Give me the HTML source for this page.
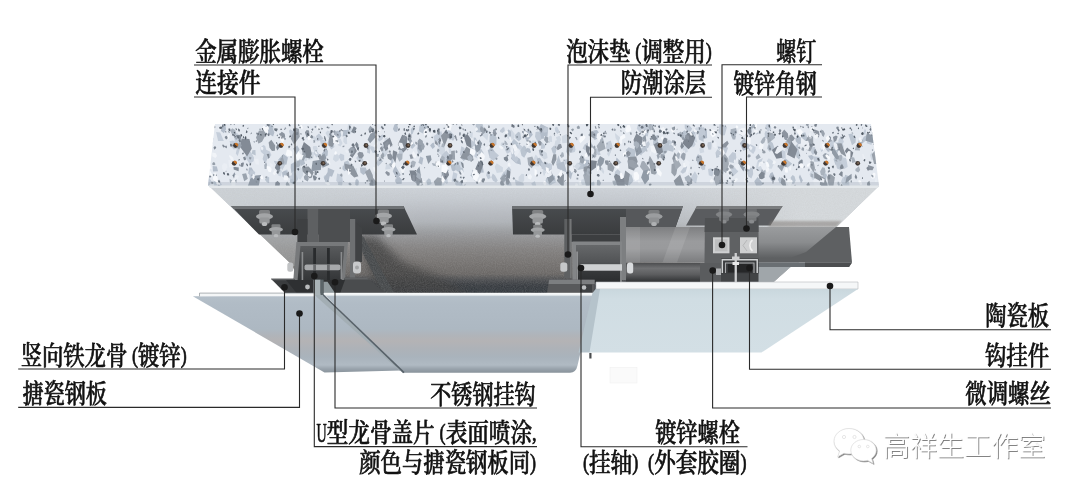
<!DOCTYPE html>
<html lang="zh"><head><meta charset="utf-8"><title>干挂陶瓷板节点</title>
<style>
html,body{margin:0;padding:0;background:#fff;}
body{width:1080px;height:495px;overflow:hidden;}
svg{display:block;will-change:transform;opacity:0.999;}
.lb{font-family:"Liberation Serif","Noto Serif CJK SC",serif;font-weight:500;font-size:26.5px;fill:#111;stroke:#111;stroke-width:0.7px;stroke-linejoin:round;}
.pp{font-size:22.5px;}
.wm{font-family:"Liberation Sans","Noto Sans CJK SC",sans-serif;font-weight:300;font-size:27px;fill:#fff;}
</style></head><body>
<svg width="1080" height="495" viewBox="0 0 1080 495">
<rect width="1080" height="495" fill="#ffffff"/>

<defs>
<linearGradient id="gUnder" x1="0" y1="186" x2="0" y2="292" gradientUnits="userSpaceOnUse">
 <stop offset="0" stop-color="#d0d5db"/><stop offset="0.13" stop-color="#c6cbd1"/><stop offset="0.25" stop-color="#b9bdc3"/>
 <stop offset="0.34" stop-color="#b0b4b9"/><stop offset="0.43" stop-color="#9c9ea1"/><stop offset="0.49" stop-color="#929294"/><stop offset="0.60" stop-color="#838180"/>
 <stop offset="0.72" stop-color="#777472"/><stop offset="0.83" stop-color="#6b6866"/><stop offset="0.89" stop-color="#4b4d50"/>
 <stop offset="0.94" stop-color="#383c41"/><stop offset="1" stop-color="#353a3f"/>
</linearGradient>
<linearGradient id="gUnderR" x1="640" y1="0" x2="800" y2="0" gradientUnits="userSpaceOnUse">
 <stop offset="0" stop-color="#d6dadd" stop-opacity="0"/><stop offset="1" stop-color="#d6dadd" stop-opacity="1"/>
</linearGradient>
<linearGradient id="gUnderL" x1="215" y1="0" x2="420" y2="0" gradientUnits="userSpaceOnUse">
 <stop offset="0" stop-color="#cdd2d6" stop-opacity="0.9"/><stop offset="1" stop-color="#cdd2d6" stop-opacity="0"/>
</linearGradient>
<linearGradient id="gSteel" x1="0" y1="293" x2="0" y2="373" gradientUnits="userSpaceOnUse">
 <stop offset="0" stop-color="#b7c2cb"/><stop offset="0.12" stop-color="#b1bcc6"/><stop offset="0.45" stop-color="#adb8c2"/>
 <stop offset="0.53" stop-color="#b0b4b9"/><stop offset="0.6" stop-color="#b4b3b5"/><stop offset="0.7" stop-color="#adb2b8"/>
 <stop offset="0.8" stop-color="#a9b3bc"/><stop offset="0.9" stop-color="#b0bac3"/><stop offset="0.95" stop-color="#98a2ab"/><stop offset="1" stop-color="#88929a"/>
</linearGradient>
<linearGradient id="gCer" x1="0" y1="289" x2="0" y2="353" gradientUnits="userSpaceOnUse">
 <stop offset="0" stop-color="#c9d7dd"/><stop offset="0.15" stop-color="#d0dde3"/><stop offset="1" stop-color="#d3dfe5"/>
</linearGradient>
<linearGradient id="gKeel" x1="0" y1="242" x2="0" y2="292" gradientUnits="userSpaceOnUse">
 <stop offset="0" stop-color="#5b5d5f"/><stop offset="1" stop-color="#2c2d2e"/>
</linearGradient>
<linearGradient id="gKeelL" x1="0" y1="246" x2="0" y2="280" gradientUnits="userSpaceOnUse">
 <stop offset="0" stop-color="#585a5c"/><stop offset="0.5" stop-color="#46484a"/><stop offset="1" stop-color="#343638"/>
</linearGradient>
<linearGradient id="gKeelM" x1="0" y1="245" x2="0" y2="283" gradientUnits="userSpaceOnUse">
 <stop offset="0" stop-color="#66686a"/><stop offset="0.45" stop-color="#525456"/><stop offset="0.7" stop-color="#36383a"/><stop offset="1" stop-color="#2a2c2e"/>
</linearGradient>
<linearGradient id="gPlate" x1="0" y1="206" x2="0" y2="234.5" gradientUnits="userSpaceOnUse">
 <stop offset="0" stop-color="#494c4f"/><stop offset="1" stop-color="#3a3c3e"/>
</linearGradient>
<linearGradient id="gHi" x1="0" y1="292.8" x2="0" y2="296.1" gradientUnits="userSpaceOnUse">
 <stop offset="0" stop-color="#fbfcfc"/><stop offset="0.6" stop-color="#eef2f4"/><stop offset="1" stop-color="#c9d2d8"/>
</linearGradient>
<linearGradient id="gTube" x1="0" y1="227" x2="0" y2="263" gradientUnits="userSpaceOnUse">
 <stop offset="0" stop-color="#7e7f81"/><stop offset="0.4" stop-color="#9a9b9d"/><stop offset="0.6" stop-color="#999a9c"/><stop offset="1" stop-color="#7a7b7d"/>
</linearGradient>
<linearGradient id="gTubeL" x1="0" y1="227" x2="0" y2="258" gradientUnits="userSpaceOnUse">
 <stop offset="0" stop-color="#9a9c9e"/><stop offset="0.5" stop-color="#8a8c8e"/><stop offset="1" stop-color="#5e6062"/>
</linearGradient>
<linearGradient id="gUT" x1="0" y1="263" x2="0" y2="282" gradientUnits="userSpaceOnUse">
 <stop offset="0" stop-color="#4d4e50"/><stop offset="0.28" stop-color="#707173"/><stop offset="0.6" stop-color="#5c5d5f"/><stop offset="1" stop-color="#2f3133"/>
</linearGradient>
<radialGradient id="gShadow" cx="0.5" cy="0.5" r="0.5">
 <stop offset="0" stop-color="#3c3c3c" stop-opacity="0.75"/><stop offset="1" stop-color="#3c3c3c" stop-opacity="0"/>
</radialGradient>
<filter id="blur4" x="-20%" y="-20%" width="140%" height="140%"><feGaussianBlur stdDeviation="4"/></filter>
<filter id="blur1" x="-10%" y="-50%" width="120%" height="200%"><feGaussianBlur stdDeviation="1.2"/></filter>
<filter id="blur2" x="-20%" y="-20%" width="140%" height="140%"><feGaussianBlur stdDeviation="2"/></filter>
<filter id="wmsh" x="-5%" y="-20%" width="110%" height="140%"><feDropShadow dx="0.9" dy="0.9" stdDeviation="0.45" flood-color="#6e6e6e" flood-opacity="0.95"/></filter>
<filter id="noise" x="0" y="0" width="100%" height="100%">
 <feTurbulence type="fractalNoise" baseFrequency="0.9" numOctaves="2" seed="3"/>
 <feColorMatrix type="matrix" values="0 0 0 0 0.5  0 0 0 0 0.5  0 0 0 0 0.5  0.9 0 0 0 -0.25"/>
</filter>
<clipPath id="cUnder"><polygon points="209,186 879,186 836.5,227 836.5,240 790.5,267 773,282.5 596,282.5 596,293 309,293 290,263"/></clipPath>
<clipPath id="cFace"><polygon points="215,124 871,124 879,185.5 208,185.5"/></clipPath>
</defs>

<g clip-path="url(#cUnder)">
<rect x="200" y="186" width="700" height="110" fill="url(#gUnder)"/>
<rect x="640" y="186" width="260" height="110" fill="url(#gUnderR)"/>
<rect x="200" y="186" width="230" height="48" fill="url(#gUnderL)"/>
<rect x="200" y="234" width="100" height="32" fill="#b4b7ba" opacity="0.45"/>
<polygon points="356,236 376,236 402,262 445,280 470,296 380,296" fill="#3f3f3f" opacity="0.8" filter="url(#blur4)"/>
<polygon points="354,236 363,236 394,293 383,293" fill="#474a4c" opacity="0.95"/>
<rect x="200" y="186" width="700" height="110" filter="url(#noise)" opacity="0.35"/>
</g>
<polygon points="208,185 879,185 878,188 210,188" fill="#e4e8eb"/>
<g clip-path="url(#cFace)">
<rect x="205" y="122" width="680" height="66" fill="#e4e9f0"/>
<path fill="#c5ceda" d="M689.8 179.2L694.9 171.2L697.6 176.1L696.1 183.6ZM254.1 157.8L253.6 161.3L249.6 163.8L245.1 156.9L246.7 152.4L250.7 151.6ZM372.7 153.1L369.9 147.7L371.7 146.1L374.3 147.3L375.0 153.1ZM237.2 148.7L233.7 149.6L230.8 146.3L229.6 141.2L233.1 140.5L236.7 142.8ZM610.3 152.7L605.9 148.3L606.4 142.5L610.8 140.4L612.8 147.3ZM319.4 137.9L325.9 140.9L327.0 148.4L321.3 146.3ZM840.8 135.8L843.9 141.4L841.0 147.4L839.1 147.5L838.3 140.4ZM570.6 153.1L569.6 147.7L571.0 143.8L574.3 145.0L575.5 149.5L574.7 152.1ZM344.2 160.0L341.0 161.2L338.4 156.5L340.5 153.5L344.2 154.9ZM837.8 150.8L835.3 145.8L836.2 142.2L842.8 142.9L843.7 147.4ZM536.2 185.6L533.8 188.2L531.2 183.6L534.9 180.9ZM288.8 176.3L292.7 174.9L295.3 179.9L295.8 182.8L291.0 182.2ZM821.2 151.9L820.5 149.0L821.2 144.8L823.7 143.2L824.7 144.9L824.5 149.6ZM238.6 145.4L235.6 144.6L234.2 138.8L237.1 132.7L239.6 137.2L240.4 142.5ZM552.1 164.5L552.0 168.9L550.8 171.0L547.3 168.6L547.1 164.6L549.9 163.1ZM834.8 146.0L830.8 148.0L829.5 145.5L830.3 141.8L832.9 140.2L835.8 141.6ZM259.3 138.3L262.0 137.4L262.9 138.2L261.9 141.5L258.7 143.7L257.9 141.3ZM738.3 171.4L733.0 176.4L731.0 169.2L734.7 167.2ZM240.5 147.3L237.7 156.1L235.8 153.6L237.6 145.2ZM768.2 131.8L765.3 128.5L765.7 124.9L768.3 123.5L770.5 125.0L771.3 129.0ZM756.5 167.7L757.8 160.6L762.8 158.1L759.5 167.7ZM451.6 181.4L453.2 172.1L457.5 173.8L455.7 182.2ZM721.1 126.3L723.3 125.0L725.0 128.3L723.5 133.0L722.7 133.8L720.1 131.8ZM323.5 177.1L325.1 174.8L326.6 176.7L327.5 179.6L325.6 181.5ZM694.1 146.8L691.1 147.3L689.6 145.2L690.4 140.5L694.2 140.9L695.6 144.3ZM749.2 150.7L748.2 145.8L750.5 144.3L755.7 146.9L755.3 150.6L753.2 154.0ZM846.2 158.3L847.7 166.7L844.4 169.0L839.2 164.4L840.8 156.9ZM221.9 184.4L218.9 189.4L213.8 185.5L214.6 179.8L219.6 181.2ZM557.6 127.6L559.2 131.2L557.6 134.0L555.4 131.4L554.7 128.4L556.0 126.5ZM268.6 159.1L264.9 158.4L264.1 152.5L265.7 149.6L269.8 151.4L271.4 155.1ZM866.1 130.5L865.3 135.0L863.0 133.8L864.9 128.8ZM471.8 154.1L472.0 147.8L475.7 150.0L477.5 153.4L476.6 158.2ZM518.7 143.8L523.3 147.3L523.8 150.1L518.7 149.5L517.7 146.3ZM362.5 162.3L358.4 161.6L356.2 158.0L357.7 156.1L361.0 155.6L363.3 159.8ZM223.8 141.0L218.1 141.0L216.1 132.0L220.2 132.4ZM653.0 121.4L653.5 126.6L649.1 131.1L646.0 127.9L648.6 120.4ZM454.1 134.9L454.2 139.2L449.1 139.8L446.0 132.3L448.6 129.2ZM849.6 186.1L845.9 190.6L841.0 181.4L843.0 176.7L848.6 177.6ZM507.0 153.8L504.8 149.8L506.9 145.9L510.3 147.4L510.3 152.0ZM282.2 170.2L279.8 165.7L284.7 158.7L285.9 163.7ZM641.7 124.2L643.1 129.2L640.2 132.8L636.8 128.7L638.2 123.2ZM336.2 180.7L337.1 173.4L341.8 174.8L343.0 181.6L339.5 184.4ZM260.4 147.6L263.4 145.1L265.2 146.1L266.7 151.8L263.5 154.2L260.8 151.7ZM549.6 185.5L546.3 178.2L551.5 173.9L556.6 182.1ZM657.4 140.8L656.6 144.5L655.0 145.4L653.5 141.6L654.7 139.0ZM780.5 156.3L782.0 149.8L785.5 151.4L785.7 158.2L782.6 158.9ZM383.7 136.8L382.1 139.8L379.0 141.5L377.9 139.6L380.9 135.3L382.8 134.5ZM317.2 151.2L319.3 154.3L318.9 156.3L316.5 157.6L313.9 153.9L314.3 151.0ZM287.4 175.7L285.5 175.2L285.1 170.2L287.1 169.5L289.1 174.0ZM564.2 160.0L566.6 158.9L567.5 159.8L566.7 164.1L564.7 164.8ZM872.5 140.8L871.5 144.9L866.7 143.3L868.3 134.5ZM670.9 145.0L667.5 142.0L668.9 139.5L671.9 141.4L672.9 144.4ZM388.0 151.9L385.4 156.4L383.8 156.4L381.7 151.4L382.2 147.5L386.6 149.5ZM474.9 142.9L476.0 142.1L479.5 143.9L481.6 147.8L479.5 148.9ZM712.3 176.6L708.8 175.2L708.0 168.9L711.3 168.3L713.6 172.5ZM443.8 181.4L444.0 179.0L446.3 176.9L447.4 178.9L448.0 183.1L446.6 184.0ZM308.3 169.8L309.6 169.0L312.7 170.5L311.8 175.0L308.3 176.1ZM434.5 142.3L433.5 136.3L441.3 130.9L443.4 138.3Z"/>
<path fill="#bac4d0" d="M629.2 185.7L624.9 182.8L623.8 177.9L626.0 173.1L631.4 174.8L633.5 181.0ZM795.8 152.3L797.9 148.1L800.6 156.1L799.2 159.4L796.5 157.3ZM295.9 170.3L291.4 164.5L294.7 161.5L299.7 162.8L299.7 169.9ZM769.5 151.7L767.0 148.6L769.4 140.0L772.7 142.9L774.7 148.7ZM848.5 176.1L848.7 183.8L846.1 184.3L843.9 178.7L845.2 174.7ZM518.8 147.8L513.3 153.3L513.1 145.9L517.1 143.1ZM412.5 126.8L414.2 129.8L412.7 133.7L411.0 134.9L410.8 129.6ZM782.0 182.4L779.8 183.3L778.0 179.7L779.4 176.7L782.3 180.1ZM716.3 157.9L715.5 152.4L718.6 150.4L719.3 157.0ZM557.5 166.8L556.2 162.8L558.4 155.3L560.9 162.6ZM345.9 166.3L346.8 170.1L344.5 171.3L342.3 169.1L342.8 165.6ZM792.1 183.8L790.6 177.5L792.6 174.9L794.5 176.3L795.7 180.4L794.1 183.7ZM474.0 145.6L473.7 137.6L475.8 137.8L478.2 144.3L475.9 147.6ZM665.4 144.3L667.3 152.1L662.5 155.3L661.7 146.8ZM441.5 155.8L445.6 152.8L447.1 154.5L445.8 159.6L442.9 158.4ZM418.3 154.5L416.7 147.6L421.3 146.1L422.0 152.1ZM427.5 130.6L424.8 134.5L418.8 131.2L419.5 125.9L422.0 122.2L427.0 123.2ZM481.2 149.1L483.6 152.9L481.5 157.5L478.5 154.7L478.0 149.8ZM690.3 132.7L694.6 130.2L696.0 137.2L694.0 140.5L692.0 138.8ZM520.3 132.8L521.3 139.0L518.8 141.3L515.5 138.5L514.8 135.3L518.3 131.8ZM269.1 183.3L266.8 182.2L264.9 179.8L267.1 176.3L269.2 177.5ZM653.1 142.2L653.5 136.8L657.7 134.9L657.9 138.0L657.6 144.2L653.1 145.0ZM535.2 163.7L530.7 165.5L529.7 162.2L531.1 159.7L534.9 159.9ZM667.9 151.1L663.9 147.3L665.0 142.6L669.2 140.1L669.9 148.2ZM473.1 153.5L472.2 156.6L468.2 158.6L465.7 151.9L470.8 148.5ZM792.2 163.7L787.0 167.9L783.5 163.5L785.4 158.2ZM273.5 126.7L273.2 132.7L268.0 133.8L266.5 132.6L264.6 126.6L270.5 123.6ZM347.8 170.6L343.6 168.0L344.1 161.9L348.0 160.6L350.1 164.5ZM552.8 153.3L551.2 148.4L554.2 145.3L556.7 148.7L555.2 154.8ZM492.3 133.4L496.6 137.3L496.4 144.7L493.0 146.5L489.4 142.0L489.7 135.4ZM416.8 179.0L412.3 180.9L412.1 176.4L414.6 175.9ZM635.2 158.9L631.3 159.2L625.7 150.1L628.6 147.3L635.0 149.5ZM521.6 155.8L520.2 150.6L524.0 145.3L525.8 147.1L527.4 151.8L524.2 157.7ZM206.0 165.0L205.3 159.4L207.3 156.7L210.0 163.5ZM545.3 182.1L546.3 177.8L548.4 179.9L548.3 182.6ZM646.2 145.0L647.1 149.9L642.2 153.8L640.2 149.0ZM595.2 150.3L588.7 153.6L585.8 143.7L590.8 141.2ZM674.5 147.8L673.0 151.7L668.6 150.8L668.6 147.9L670.3 144.5L672.7 145.7ZM301.2 158.1L301.6 161.4L299.6 168.9L296.8 165.9L295.8 162.3L298.0 155.6ZM479.5 132.5L476.0 131.9L475.7 124.4L479.7 121.3L482.2 122.6L484.4 131.4ZM290.1 182.3L289.8 180.0L293.3 177.7L295.8 178.6L295.8 181.5L292.8 184.1ZM213.8 179.5L216.4 179.9L216.7 184.7L213.2 183.5ZM513.8 138.7L518.8 143.5L515.1 146.9L511.4 142.8ZM252.3 150.2L255.4 150.0L255.7 155.5L251.9 153.8ZM690.3 140.8L685.2 141.3L683.2 139.9L680.7 134.0L684.3 130.3L690.5 134.2ZM393.0 158.0L393.7 164.6L391.0 165.2L391.1 156.7ZM430.5 179.4L431.6 184.0L427.6 185.4L426.2 181.1L428.7 178.2ZM594.4 186.9L592.6 188.4L590.1 186.3L590.2 183.4L593.7 181.4L594.5 182.9ZM703.9 142.1L698.9 139.6L698.6 136.0L703.1 135.4ZM453.4 164.5L457.2 161.5L460.3 164.2L461.0 170.8L459.9 173.0L453.5 168.4ZM807.7 138.7L806.0 145.4L802.6 143.8L799.4 136.3L800.9 133.8L805.2 132.3ZM835.7 154.8L839.0 159.8L835.6 165.2L833.6 159.5ZM411.1 142.7L412.7 141.8L415.5 145.6L412.5 148.7L410.7 148.0ZM838.2 146.6L837.4 154.7L834.9 156.4L831.7 151.8L831.8 145.6L835.5 143.6ZM851.9 133.5L855.8 138.0L855.6 142.5L852.0 145.3L848.4 134.3ZM862.7 143.2L860.5 142.6L863.8 136.7L867.2 134.8L866.8 139.6ZM582.9 160.6L584.2 168.7L577.7 170.0L576.1 164.2ZM463.8 172.9L460.2 173.5L458.0 166.6L462.9 167.6ZM697.6 127.2L702.3 126.8L703.8 132.7L700.4 134.7ZM478.8 169.6L477.4 176.8L474.3 179.2L470.5 175.4L473.3 169.4Z"/>
<path fill="#d0d8e2" d="M825.8 180.4L822.0 177.4L819.7 171.5L821.8 169.1L825.5 171.7L827.4 176.1ZM582.6 185.3L581.2 183.1L581.4 179.7L584.4 178.8L585.2 180.8L585.0 184.6ZM763.3 166.1L760.5 171.7L756.1 169.4L756.8 163.0L760.4 161.3ZM458.2 164.1L458.7 160.9L463.0 161.7L462.7 167.9ZM473.0 132.4L472.3 138.3L469.2 136.4L469.9 132.1ZM771.7 168.8L768.3 168.5L765.8 162.5L768.7 158.3L771.7 160.1L774.4 163.1ZM315.6 141.6L312.6 138.6L312.3 135.9L315.0 136.4L318.0 140.2ZM303.8 160.7L302.1 155.6L303.8 152.9L308.1 152.8L308.3 155.7L306.7 161.2ZM340.5 146.6L336.0 144.0L337.6 138.3L340.7 138.9L342.5 143.2ZM802.9 159.5L803.3 163.1L800.3 165.0L798.8 159.7ZM313.7 156.2L313.0 158.8L308.5 160.0L307.6 157.1L309.6 151.8L314.0 152.2ZM437.6 152.2L439.3 147.2L444.5 143.8L445.3 154.0L441.7 155.6ZM692.1 139.3L693.2 144.0L693.1 147.5L687.3 145.6L684.8 140.4L686.2 135.8ZM384.8 154.6L383.3 151.1L382.1 144.8L384.1 142.1L386.6 144.0L388.1 152.3ZM539.6 151.4L542.1 150.0L546.8 153.1L547.6 158.1L544.4 159.6L539.3 154.8ZM445.0 182.7L442.8 188.2L438.8 182.0L442.2 180.4ZM559.2 142.5L557.2 141.0L555.9 137.2L559.7 135.8L561.2 139.9ZM503.0 167.5L502.7 171.9L496.8 172.9L494.6 166.7L496.7 163.3ZM282.1 171.8L280.7 176.5L278.3 175.5L276.0 171.7L278.4 167.3L280.1 167.9ZM317.0 152.0L314.6 152.0L312.7 148.0L313.4 146.1L316.6 146.1L317.7 148.5ZM552.1 142.0L550.6 141.9L549.0 141.1L548.7 137.1L550.3 135.4L551.8 136.6ZM629.7 177.4L627.7 182.0L624.8 180.3L623.9 177.1L627.7 175.1ZM869.9 155.3L871.6 152.3L874.0 153.8L875.4 158.1L872.7 160.1L871.4 159.9ZM617.0 139.8L618.8 138.5L621.8 142.6L620.5 145.5ZM487.4 140.5L482.1 135.3L483.1 128.7L488.9 130.9ZM384.0 144.0L384.7 138.2L387.6 137.5L389.4 142.4L387.0 146.7ZM580.7 165.6L577.4 170.0L574.2 166.4L577.4 162.6ZM350.4 134.4L347.5 133.6L345.9 131.4L347.5 128.3L351.7 127.3L352.3 129.2ZM591.4 179.0L590.4 186.1L585.8 186.1L582.1 181.9L584.3 176.6ZM683.0 151.0L681.7 143.5L683.6 142.0L686.0 143.2L685.1 149.4ZM336.3 153.2L339.4 156.1L338.6 160.2L335.8 161.9L332.9 159.5L333.8 155.4ZM686.1 145.6L687.5 146.7L687.7 152.0L685.0 153.0L684.4 149.1ZM560.4 141.5L560.6 147.9L556.9 148.4L554.5 144.9L555.4 140.5L559.5 139.8ZM345.4 144.2L343.3 141.7L343.6 137.2L346.8 137.1L347.2 143.9ZM812.4 179.8L809.5 174.4L810.9 170.8L817.4 171.9L817.8 180.1ZM692.0 137.2L694.9 133.5L697.4 142.6L692.7 141.6ZM500.6 146.8L501.0 142.8L503.2 142.2L506.8 143.8L506.0 147.1L504.2 148.7ZM534.5 148.0L529.5 147.0L532.5 140.3L536.4 140.8ZM702.9 145.4L704.3 152.2L700.2 153.2L699.2 148.6ZM694.3 129.2L696.8 127.2L700.6 129.5L700.2 132.4L696.8 134.9L694.5 131.9ZM625.0 180.6L625.9 186.4L620.6 189.9L616.1 185.2L616.6 180.9L619.9 176.8ZM801.8 133.3L800.6 138.7L799.3 139.6L796.1 138.7L797.1 134.1L799.9 132.6ZM300.2 179.7L295.1 176.1L296.8 168.0L302.3 168.2L303.3 174.9ZM518.7 177.0L521.7 173.8L524.2 174.3L524.2 180.5L522.1 183.4L518.4 181.3ZM327.5 130.4L332.0 132.3L333.4 138.5L330.2 141.0L325.4 133.1ZM572.0 175.5L568.1 170.8L569.2 162.1L574.3 166.3ZM625.9 152.1L628.6 154.1L630.5 158.8L625.7 157.6ZM562.3 143.3L561.7 136.3L566.8 134.0L568.9 137.0L567.4 142.7ZM357.1 173.9L355.7 175.3L352.1 175.0L352.2 171.4L354.0 169.2L356.8 167.9ZM608.9 149.3L610.9 152.1L608.9 156.8L607.0 154.0ZM600.2 168.8L601.7 167.2L602.7 167.9L604.2 171.7L603.5 173.9L601.6 171.5ZM301.6 169.2L298.4 173.7L296.6 166.8L299.1 164.5ZM544.6 168.9L546.2 173.2L543.9 175.9L542.5 170.9ZM450.5 154.0L449.2 153.0L448.5 149.2L449.1 147.7L450.4 148.3L451.5 150.8ZM535.7 154.4L539.6 159.3L538.8 166.6L533.7 165.9L532.3 161.6ZM615.6 138.2L614.9 133.0L620.2 137.6L618.7 143.1ZM351.5 124.0L350.7 129.1L347.4 128.7L348.3 123.5ZM785.9 152.9L784.8 149.8L788.8 143.0L791.8 146.1L792.0 149.6ZM390.4 169.1L385.2 169.4L386.0 164.6L391.3 164.1ZM880.0 135.4L873.6 131.9L873.1 127.8L879.8 125.0L882.7 130.0ZM507.1 132.6L511.2 129.2L514.6 133.7L514.4 138.2L510.6 140.8L507.2 137.9Z"/>
<path fill="#b3bdca" d="M874.5 135.8L876.1 138.3L876.1 141.5L874.5 142.3L873.1 140.5L873.2 137.6ZM460.1 187.9L458.7 182.5L463.0 179.8L466.4 182.6L462.8 190.5ZM826.9 175.1L825.7 179.3L823.7 180.3L822.0 177.5L823.4 173.7L825.3 173.4ZM570.9 179.5L565.9 173.3L569.3 170.3L572.7 171.8ZM749.6 148.2L743.2 150.8L739.9 143.3L744.1 137.7L747.8 140.5ZM327.9 167.8L334.5 170.6L332.0 176.8L327.3 175.3ZM829.5 148.1L829.3 151.9L827.6 151.5L824.7 147.5ZM340.2 131.1L341.3 135.4L339.5 138.3L336.7 138.0L335.2 134.2L336.5 130.8ZM823.9 190.6L820.9 189.5L821.3 183.0L824.0 180.8L827.7 183.2L826.9 187.7ZM792.7 144.5L789.8 148.1L786.9 149.2L785.4 141.5L788.8 138.2L791.1 138.5ZM282.6 176.7L282.0 172.6L284.2 170.8L286.7 171.3L287.8 175.2L285.7 178.9ZM398.1 127.6L397.2 132.1L394.4 131.5L392.9 129.0L394.5 124.6L396.3 123.5ZM526.7 141.7L522.2 131.1L530.9 130.7L532.8 134.7ZM520.1 159.0L521.1 164.7L516.0 163.3L511.0 158.7L511.5 156.7L515.0 155.8ZM721.8 147.1L723.2 151.3L719.0 150.1L717.5 146.6ZM615.1 163.1L616.6 157.4L621.4 162.5L618.9 164.3ZM433.6 142.5L435.0 146.7L432.6 148.9L430.1 145.6L432.1 143.2ZM291.4 173.1L290.7 167.4L290.9 164.0L294.9 162.7L296.7 165.5L295.5 171.4ZM463.7 160.9L461.1 158.6L461.4 153.4L463.5 151.4L466.6 154.8L467.3 157.7ZM287.9 157.4L286.5 164.5L279.3 164.4L278.3 159.4L283.3 153.9ZM401.7 183.8L396.7 184.0L395.1 181.3L395.6 178.6L399.4 177.1L401.9 179.4ZM324.9 149.2L328.0 150.4L327.6 155.4L323.9 158.5L321.6 154.2ZM772.4 172.1L774.5 176.3L773.3 181.5L771.7 181.1L769.0 176.5L770.2 173.6ZM763.3 183.9L757.5 189.0L754.3 181.2L757.7 177.0ZM400.7 175.1L396.9 178.7L392.7 171.2L395.2 165.4ZM207.9 129.0L210.5 129.5L212.1 131.4L208.7 138.7L204.7 140.1L204.6 134.4ZM548.3 127.7L547.4 137.0L540.0 133.7L538.6 128.6L540.9 123.9ZM299.7 162.2L302.6 156.1L305.2 163.8L301.0 165.9ZM254.2 172.1L251.7 176.5L248.2 173.5L249.0 167.5L251.6 167.6ZM802.9 180.4L801.0 183.3L798.8 176.9L800.0 174.6ZM544.6 138.5L540.4 139.0L538.9 133.0L542.4 129.4ZM698.3 165.5L695.9 157.9L698.1 153.9L701.6 158.7L701.6 162.3ZM506.3 130.8L508.7 129.6L511.0 131.8L511.0 136.1L509.9 136.6L507.0 133.1ZM328.1 171.3L330.0 174.8L328.5 181.7L325.7 182.4L324.0 178.1ZM423.4 158.1L422.1 164.8L418.4 162.8L420.2 156.5ZM273.1 136.4L268.1 133.5L268.8 126.5L271.0 125.6L274.4 132.3ZM216.9 166.4L218.0 171.3L213.0 171.6L212.7 165.9ZM476.3 179.0L474.2 179.8L472.1 174.5L472.4 170.1L474.7 169.0L476.5 172.8ZM758.8 133.6L756.2 134.5L754.6 130.1L756.2 129.3ZM584.0 168.6L582.6 165.7L583.9 159.4L589.2 160.0L589.2 164.2ZM811.5 160.7L809.1 157.8L808.1 155.7L811.9 154.9L814.1 157.2ZM556.3 164.0L563.8 161.3L566.9 172.6L557.4 168.5ZM346.7 135.8L342.6 136.4L343.5 130.0L349.1 130.1ZM367.5 172.1L363.3 175.1L360.4 172.5L359.9 167.6L365.7 167.5ZM222.9 124.0L225.3 124.4L226.1 129.3L223.9 133.3L221.0 130.9L221.2 125.4ZM378.6 164.6L377.4 161.4L379.7 156.5L382.9 161.4ZM489.3 156.4L486.8 146.3L490.1 144.5L495.2 152.4ZM451.9 170.3L450.3 164.6L452.8 164.5L455.2 165.4L455.6 170.2L453.3 171.5ZM537.9 163.7L536.7 158.6L539.9 157.8L543.3 163.3L542.1 167.2ZM592.4 134.5L593.4 130.4L597.0 129.9L599.7 133.6L599.6 137.7L594.5 140.0ZM839.0 149.7L837.2 152.5L836.3 149.8L837.4 146.2L838.9 148.1ZM795.9 141.5L795.3 138.2L798.6 136.7L801.7 137.9L801.8 143.3L798.6 144.2ZM483.8 172.5L479.8 172.7L477.7 171.8L476.2 167.0L479.1 163.6L482.7 165.8ZM358.5 185.3L356.6 186.5L355.2 184.4L355.4 180.4L356.9 178.8L358.9 180.9ZM527.0 148.0L529.7 148.5L531.1 152.3L529.7 153.0L524.5 150.8ZM703.0 139.3L700.4 132.5L703.2 127.3L706.8 130.1L707.1 138.0ZM299.5 149.3L297.3 155.8L293.1 148.5L297.2 145.6ZM554.8 175.9L555.4 179.2L555.0 181.1L551.7 180.1L551.3 178.1L551.6 174.8Z"/>
<path fill="#c0c9d5" d="M769.6 132.7L769.8 135.3L768.0 139.2L765.1 138.0L764.6 133.5L765.7 130.8ZM291.7 177.9L291.8 172.2L294.4 170.5L298.3 179.1L296.2 182.1ZM445.1 163.4L441.2 159.0L441.8 155.0L446.4 150.6L450.4 155.7L450.3 158.6ZM448.5 135.4L449.6 131.9L454.7 138.3L453.0 141.1ZM492.8 173.6L495.1 175.5L497.8 180.6L496.1 182.5L493.0 180.8L491.3 177.3ZM297.5 135.4L296.7 137.6L294.4 136.1L294.3 131.2L295.6 130.1L297.7 132.4ZM504.9 173.6L505.3 170.6L508.9 166.6L511.3 169.9L507.6 175.1ZM565.9 151.8L567.5 144.1L570.1 144.3L569.5 156.3ZM688.9 125.0L692.1 128.6L690.7 131.5L688.0 131.8L684.8 128.3L684.7 124.5ZM488.0 179.2L486.1 175.3L487.2 171.6L489.2 172.4L490.7 178.1ZM333.5 142.8L334.4 147.1L331.3 149.4L327.2 143.3L328.5 140.4ZM752.7 125.4L752.0 131.3L749.6 134.9L746.7 133.0L750.0 126.7ZM540.7 134.7L541.4 139.8L537.6 142.1L535.0 136.8L535.6 131.9L538.5 131.4ZM400.6 146.7L403.4 144.4L404.8 148.6L403.0 153.5L399.4 155.3L398.8 152.1ZM724.8 135.3L721.5 135.5L718.6 132.6L719.5 124.2L722.5 124.2L726.9 127.1ZM267.8 157.6L265.4 163.9L262.6 158.9L264.3 152.8ZM273.7 160.7L278.1 161.4L280.0 166.0L275.3 163.9ZM595.1 151.1L596.3 147.9L599.0 150.1L600.7 154.7L597.9 155.2ZM515.9 185.4L514.8 179.2L523.9 183.6L523.4 189.3ZM206.0 139.4L209.1 133.6L213.6 138.2L212.3 144.3ZM540.7 162.7L547.3 162.4L550.1 165.2L548.4 172.3L541.7 168.7ZM752.8 168.5L753.2 174.1L751.4 178.6L747.9 176.3L747.3 172.8L750.4 167.4ZM722.3 178.0L717.8 180.8L715.4 176.3L718.6 170.7L724.3 170.3ZM702.6 170.3L700.6 167.9L700.3 164.0L703.5 162.7L705.2 166.0L705.2 169.6ZM548.0 127.8L547.5 132.0L543.7 132.8L542.9 130.6L545.0 127.2ZM704.1 127.2L705.6 134.3L699.0 137.9L698.1 131.6ZM689.1 169.6L682.8 173.8L680.3 172.0L684.0 166.9L686.7 166.3ZM545.3 145.4L544.5 148.4L540.9 149.1L541.3 141.8ZM811.2 147.3L815.0 147.0L816.2 152.9L812.6 154.7L811.1 152.2ZM469.9 139.0L475.7 142.9L471.9 148.2L466.6 140.6ZM620.4 171.5L618.8 179.0L616.2 180.9L614.0 176.2L615.2 171.6L617.6 169.2ZM547.5 183.1L547.4 179.0L550.2 178.8L551.3 180.2L551.9 184.3L550.0 185.4ZM372.1 189.5L370.3 187.9L370.6 182.9L373.1 182.3L375.1 184.1L374.1 188.4ZM798.4 151.4L795.3 154.9L794.3 147.0L798.0 143.3ZM510.6 151.1L515.9 153.6L518.4 159.5L516.3 163.0L512.0 158.7ZM646.3 142.7L648.7 141.3L649.9 144.0L648.0 148.3L645.6 147.2ZM367.0 152.5L367.9 145.0L370.6 145.5L369.9 153.7ZM814.3 161.7L812.6 156.3L819.5 157.0L820.3 161.7ZM643.0 151.3L641.3 155.6L637.8 153.2L639.1 149.8ZM711.2 149.4L708.5 149.7L707.3 145.4L707.8 142.2L711.5 141.9L711.6 146.1ZM507.8 186.6L505.4 183.0L506.6 180.3L510.9 182.6L512.2 187.5ZM204.0 179.4L207.4 175.0L211.8 181.8L207.2 188.4ZM721.6 151.7L723.6 145.9L726.6 146.5L728.0 148.0L726.1 153.4L723.9 153.3ZM438.4 147.6L436.9 138.7L440.1 138.6L440.3 146.7ZM213.3 127.0L211.7 132.2L208.0 131.3L210.1 126.1ZM588.3 142.9L591.7 146.6L591.3 150.8L588.2 151.9L582.5 148.4L584.6 144.6ZM376.0 162.9L378.4 158.5L381.8 157.0L381.3 163.3L378.0 166.6ZM502.9 127.2L504.3 127.5L504.8 130.9L502.5 132.9L500.2 132.1L499.9 130.4ZM874.7 132.6L873.8 128.4L879.3 128.4L879.2 133.8ZM255.3 172.4L253.9 175.9L251.1 175.3L249.4 172.9L250.6 169.9L254.3 171.2ZM289.0 130.9L290.2 129.2L294.2 132.1L295.2 135.5L293.2 138.0L290.2 135.8ZM647.7 136.5L642.3 134.9L640.6 129.7L642.4 123.9L647.1 125.6L649.1 130.3ZM418.4 150.0L417.2 145.7L418.7 143.4L420.7 149.6ZM254.3 179.8L249.7 179.9L249.4 172.8L252.8 172.4ZM500.3 177.8L504.1 171.1L508.6 176.1L505.0 182.3ZM316.0 136.0L319.0 133.6L323.5 138.6L317.5 141.5ZM338.5 181.4L341.8 179.4L342.6 183.1L342.0 185.7L338.0 185.1ZM458.1 180.6L461.1 184.1L460.2 186.2L457.1 186.8L455.2 184.2L455.3 180.5ZM735.8 153.2L736.4 158.4L733.9 163.0L729.2 162.1L728.5 156.7L732.6 152.1ZM715.8 152.2L717.4 149.2L720.5 151.4L721.1 154.3L717.6 156.0ZM464.7 148.0L463.0 156.2L459.8 155.2L461.3 146.3ZM493.6 160.7L489.2 157.6L490.1 150.5L495.0 152.1L499.0 155.6ZM837.0 168.6L835.2 160.5L838.1 159.2L842.3 163.6L840.8 169.9Z"/>
<path fill="#8d959f" d="M637.7 161.4L634.0 170.8L628.3 168.4L627.8 157.1L636.1 156.4ZM275.3 145.5L274.9 150.8L272.0 151.0L269.5 147.7L268.6 142.4L271.3 139.8ZM417.7 176.7L421.6 177.9L422.8 184.2L420.4 189.6L417.3 189.4L415.9 179.3ZM786.2 185.9L784.7 188.1L780.8 183.3L781.6 177.3L785.2 180.5ZM440.9 135.7L446.5 129.8L448.6 136.0L444.4 146.4ZM836.2 143.5L841.5 143.3L846.5 156.9L841.0 153.6ZM676.8 155.8L674.5 165.0L672.2 158.2L674.7 152.3ZM814.1 171.7L825.3 178.7L828.1 186.6L823.1 187.4L814.3 179.9ZM551.4 162.2L553.3 154.2L556.2 154.2L556.4 159.5L553.1 165.9ZM302.0 166.7L308.6 166.6L313.7 172.3L311.5 177.9L309.3 178.3L302.7 171.6ZM334.5 142.4L332.3 147.3L328.5 145.5L328.7 139.8L330.1 134.5L333.3 136.1ZM629.9 174.1L627.9 186.1L622.9 183.0L625.2 170.5ZM588.0 176.6L583.4 171.1L583.8 167.0L589.6 165.2L591.2 172.2ZM678.4 191.8L673.7 180.7L680.1 174.6L684.5 186.3ZM358.4 176.3L354.2 177.4L344.9 168.5L344.4 163.5L353.3 165.7ZM564.0 174.8L563.7 188.1L556.8 180.7L560.9 171.7ZM460.1 157.9L466.4 146.6L472.4 150.7L468.6 160.5Z"/>
<path fill="#99a1ab" d="M827.2 178.1L830.6 173.9L834.9 177.2L832.6 191.1L829.3 189.6ZM262.0 141.8L258.4 143.4L256.0 137.4L258.9 130.7L263.8 130.5L266.2 134.0ZM810.2 167.0L810.5 161.1L813.7 161.8L815.0 168.2L813.5 172.4ZM294.0 144.4L290.7 138.4L295.5 127.6L298.9 128.9L299.8 136.8ZM627.3 160.4L632.2 159.7L635.8 161.9L638.7 166.2L634.7 168.8L628.3 165.8ZM655.8 166.3L655.3 174.8L651.3 173.8L648.5 160.0L649.8 155.8ZM369.7 168.5L372.7 175.0L373.4 181.1L368.9 181.0L364.9 171.9ZM881.5 159.8L879.3 164.2L874.1 164.1L871.7 154.4L875.7 149.7ZM455.1 159.7L451.0 159.5L451.2 151.0L454.8 150.5ZM614.5 167.5L612.9 171.9L607.7 169.8L607.5 165.0L610.7 162.1ZM671.6 164.3L674.4 163.1L677.5 167.0L676.4 173.9L674.6 176.4L671.3 172.8ZM790.0 145.1L786.6 140.6L791.3 134.2L793.5 138.8ZM813.1 136.8L813.3 145.0L810.3 151.4L805.9 149.4L804.2 143.7L809.2 134.7ZM442.1 178.5L441.4 188.8L436.6 190.0L433.8 181.4L437.6 177.2ZM371.9 176.4L376.6 181.9L376.4 184.9L373.3 186.7L368.2 180.0Z"/>
<path fill="#838b96" d="M392.6 144.9L385.5 151.2L382.8 142.8L389.8 137.4ZM723.2 182.8L717.9 184.6L713.6 179.2L716.9 170.7L722.0 174.9ZM654.2 150.6L653.8 144.6L657.8 142.1L661.7 145.7L663.1 152.0L659.5 154.9ZM787.0 154.6L791.3 141.2L797.5 149.4L794.5 158.5ZM241.6 138.4L249.4 139.0L251.8 148.5L247.1 156.5L239.8 146.5ZM397.8 144.6L402.2 134.7L407.2 136.7L406.9 149.1L403.3 152.4ZM352.2 158.1L350.1 148.5L354.0 145.4L356.9 151.1ZM449.1 174.9L445.9 179.7L443.0 179.2L441.6 172.5L445.1 168.5L447.5 169.2ZM641.3 144.8L635.2 147.0L633.5 139.7L636.4 133.4L642.4 137.4ZM615.9 173.7L624.0 177.9L625.2 188.1L621.0 187.9L616.6 185.0L614.0 176.5ZM397.3 152.1L395.4 162.9L392.4 157.4L393.0 150.3Z"/>
<path fill="#a3abb5" d="M773.1 133.4L771.6 140.5L767.8 143.8L766.9 135.7L769.0 132.2ZM605.6 148.8L598.8 152.0L596.6 146.0L602.8 137.5ZM532.3 156.4L535.1 163.8L531.6 168.2L528.2 165.0L527.3 157.8ZM591.5 183.6L586.7 188.5L583.1 175.1L588.7 169.4ZM721.3 180.0L716.2 186.3L714.3 179.9L717.1 169.5L722.1 169.2ZM588.2 152.0L586.3 147.7L588.2 143.0L591.0 143.5L594.2 148.4L593.1 153.4ZM592.0 158.6L591.7 147.8L596.0 148.6L596.7 155.1ZM681.2 165.2L675.8 170.1L673.3 160.3L676.9 158.1ZM721.1 157.9L724.9 153.7L728.4 158.7L728.9 164.0L726.0 173.2L721.0 168.9ZM641.8 161.3L644.1 160.9L650.2 169.5L649.3 175.1L646.3 174.8L639.9 166.8Z"/>
<path fill="#909aa6" d="M320.8 170.0L311.2 171.2L312.7 160.9L322.4 159.4ZM645.6 135.1L646.3 140.3L645.1 147.0L640.8 146.6L642.5 137.2ZM546.3 175.0L550.3 169.0L554.5 179.1L549.3 183.9ZM475.1 149.3L475.0 144.9L479.4 139.4L482.1 143.3L480.0 150.1L476.9 152.8ZM845.4 183.5L846.4 177.5L851.6 173.7L851.7 178.6ZM738.6 159.2L745.9 165.0L743.4 171.6L738.3 163.7ZM875.1 143.8L865.6 140.8L866.7 133.4L876.0 135.9ZM417.8 141.0L421.6 140.3L424.3 145.9L421.2 152.2L417.9 148.7ZM428.3 164.1L425.8 156.1L430.7 155.2L431.6 159.8ZM597.5 161.2L600.0 155.9L604.5 158.7L603.5 163.3L598.8 169.1ZM255.7 175.5L261.1 175.0L258.4 187.1L250.5 191.9L246.4 190.0L250.4 178.8ZM322.6 167.7L319.6 157.1L324.5 153.5L329.3 164.8ZM370.1 143.2L367.6 139.7L370.4 133.7L375.1 131.5L376.0 136.7ZM237.0 177.5L236.2 183.2L232.6 175.5L234.4 172.3ZM419.5 166.3L421.0 176.8L419.1 180.0L416.1 170.9ZM638.4 141.3L642.2 152.0L636.5 156.4L634.6 147.9ZM643.4 170.8L648.4 169.4L649.1 179.3L644.9 184.4L641.1 177.6ZM840.7 159.1L836.3 159.4L829.4 149.2L834.3 148.8Z"/>
<path fill="#7d8590" d="M414.9 170.6L417.6 175.0L417.2 182.2L411.6 179.9L409.5 170.6ZM777.7 145.7L781.2 147.6L782.3 157.8L776.4 158.7L771.9 150.0ZM310.3 147.0L311.7 154.0L310.1 158.5L304.1 157.2L301.5 148.4L303.9 141.9ZM586.5 169.3L591.4 160.2L596.9 160.9L596.0 167.5L589.7 172.0ZM464.1 137.6L467.2 133.8L470.9 139.0L471.4 148.3L466.6 145.5ZM591.6 151.6L588.9 157.1L586.1 151.5L585.8 145.1L591.0 148.4ZM687.1 133.2L691.8 132.5L695.3 137.7L692.4 145.4L688.5 149.3L682.4 143.2ZM851.5 159.1L848.9 158.5L844.9 151.1L847.1 147.6L853.3 152.6ZM479.9 174.3L474.8 170.1L478.7 160.9L483.4 164.3Z"/>
<path fill="#9aa3ae" d="M782.4 162.5L784.8 165.2L781.8 171.6L778.6 167.8ZM656.6 155.2L658.9 152.7L659.8 157.0L657.9 159.7ZM676.3 144.8L675.0 146.7L671.7 143.6L672.3 140.1L675.0 140.6ZM374.6 130.4L376.4 130.1L377.5 132.0L376.0 134.6L374.2 132.9ZM585.7 171.6L586.5 173.7L585.6 175.9L584.6 174.7L584.0 171.8L584.6 170.9ZM734.5 181.8L733.3 184.1L731.7 182.7L731.8 180.0ZM349.5 153.1L348.4 149.8L351.0 147.1L354.5 148.2L354.3 152.5L352.3 154.4ZM441.9 173.3L444.0 172.5L444.3 176.2L442.2 178.9L441.5 176.1ZM595.2 137.8L593.8 138.6L591.2 136.7L589.7 132.3L592.3 130.9L595.0 133.6ZM733.9 166.1L733.4 168.4L730.4 168.7L728.9 165.9L730.7 164.2ZM579.8 162.3L580.0 156.9L581.4 155.2L584.5 158.7L584.3 162.2L582.3 163.8ZM241.8 145.5L239.0 149.6L237.1 147.6L238.4 143.2L240.3 142.8ZM410.9 138.8L413.1 142.4L412.8 145.6L410.0 144.3L408.8 140.5ZM685.0 159.2L683.5 160.8L680.5 157.3L681.6 153.9L683.3 152.4L685.7 153.7ZM822.6 155.3L825.1 153.1L828.6 154.6L829.2 157.6L826.3 159.4L823.8 158.3ZM771.3 175.8L773.9 175.4L774.6 180.2L773.5 182.2L772.6 182.2L771.1 177.7ZM422.9 141.0L422.2 145.0L419.1 145.1L417.7 140.9L419.6 138.6ZM423.5 149.7L421.8 149.2L420.8 147.6L422.3 142.7L423.8 143.8L424.8 146.5ZM548.3 137.6L548.1 142.2L546.8 143.4L544.0 140.0L545.1 136.0ZM379.1 153.9L378.4 157.1L376.1 156.8L376.1 153.9ZM303.8 160.4L300.9 159.7L300.7 157.4L303.0 152.1L305.2 152.8L306.1 155.6ZM802.0 147.2L804.4 148.1L803.7 151.0L801.3 150.1ZM600.3 170.8L596.4 163.8L598.4 163.0L601.5 168.3ZM473.9 179.3L473.7 176.3L476.6 176.8L477.3 179.1L475.4 181.8ZM242.1 174.0L246.1 173.3L247.8 178.7L244.2 181.2ZM284.4 162.2L283.2 164.8L280.2 163.4L280.3 158.7L282.8 156.8ZM382.2 158.7L380.7 157.4L380.6 155.6L382.7 152.5L384.1 154.1L384.2 156.7ZM807.5 137.2L810.4 139.6L811.6 145.2L807.1 144.4L805.6 140.9ZM526.5 141.1L526.9 139.9L530.6 140.7L531.6 142.2L529.4 143.3ZM368.3 129.2L370.2 125.7L374.4 129.2L373.8 131.7L368.9 131.6ZM768.3 147.6L768.7 145.2L770.1 145.5L770.7 147.6L770.3 149.0L769.0 149.2ZM307.6 181.4L304.4 179.5L303.8 176.8L305.2 174.9L307.7 175.6L308.8 179.1ZM287.1 181.6L289.1 183.7L290.4 187.3L289.4 189.8L286.6 187.6L285.7 184.1ZM483.7 128.0L485.3 132.0L483.6 133.9L480.7 131.4L479.8 128.9L480.9 126.0ZM278.7 172.0L275.7 167.9L277.0 166.3L279.9 168.5L280.2 171.2ZM660.6 153.9L664.7 154.5L665.2 158.7L663.9 160.1L660.3 157.4ZM505.5 180.0L503.6 183.1L499.9 178.7L504.7 173.3ZM650.7 132.5L652.2 125.4L655.0 130.5L654.0 133.9ZM824.9 133.7L823.6 137.0L822.2 135.8L820.8 132.0L821.4 129.6L823.6 130.7Z"/>
<path fill="#8c949f" d="M561.0 143.9L562.1 147.5L557.9 150.2L556.4 148.5L558.6 144.3ZM781.6 132.9L784.2 129.6L787.9 133.4L788.5 137.8L786.2 139.3L782.7 136.4ZM502.4 180.8L504.5 184.4L503.5 186.2L500.8 185.6L500.0 183.1L500.9 180.3ZM281.2 138.1L279.5 134.1L281.8 131.7L284.7 133.8L285.2 136.5L284.3 138.7ZM872.9 136.4L873.4 134.1L874.9 134.0L875.6 137.1L874.1 138.0ZM819.5 134.2L818.9 137.4L815.2 135.6L813.3 131.7L814.8 129.4L818.6 131.0ZM390.9 160.5L388.0 158.8L387.0 154.4L390.7 153.3L393.2 157.4ZM446.8 161.7L446.6 159.4L449.7 153.9L452.6 154.8L452.1 158.7L449.7 162.6ZM410.5 159.0L409.5 154.8L412.1 154.3L413.7 158.3ZM791.1 141.2L789.8 138.8L789.5 135.3L791.9 134.7L794.9 138.3L793.2 140.7ZM384.8 143.7L387.1 141.3L388.5 141.8L388.0 147.1L385.1 147.8ZM575.5 173.2L573.2 171.1L573.4 168.4L576.1 169.4L576.8 171.4ZM607.9 165.3L605.7 164.6L604.8 162.0L605.4 160.3L608.2 160.4L609.0 163.2ZM869.4 180.8L870.3 184.4L869.2 187.5L868.1 188.4L866.9 184.0L867.5 182.5ZM685.3 135.1L687.0 135.1L689.0 135.7L689.2 139.6L688.0 139.5L685.5 137.9ZM379.8 147.9L382.2 146.0L383.4 150.2L381.6 151.6ZM806.4 184.4L808.5 182.0L809.7 184.2L809.5 187.5L807.4 187.6ZM722.2 147.4L722.2 144.7L727.3 140.8L728.8 143.4L725.8 147.6ZM537.9 142.5L538.5 140.4L540.5 140.9L541.7 142.5L541.2 145.3L539.5 145.7ZM783.6 166.0L782.9 162.5L784.2 159.5L786.6 162.6L786.4 167.3ZM286.4 173.4L288.9 171.5L289.4 177.7L287.3 178.1ZM405.1 135.1L405.8 138.7L404.3 140.2L402.8 138.5L404.2 135.6ZM470.6 154.2L472.8 156.2L473.6 160.1L471.0 161.9L468.5 157.9L468.6 154.9ZM628.1 150.6L631.0 153.1L629.3 156.3L626.7 156.9L626.0 152.8ZM507.5 175.6L509.9 182.1L508.8 184.5L506.5 184.8L505.2 178.3ZM450.7 139.2L448.1 138.1L447.3 135.0L449.2 133.0L451.8 135.0ZM837.7 136.6L836.3 140.8L834.0 142.1L832.9 137.1L836.0 135.4ZM496.9 133.2L495.5 136.2L493.8 135.7L492.6 132.2L494.5 130.6ZM809.0 144.1L810.3 144.5L810.1 148.3L808.7 149.9L807.2 150.1L806.8 146.2ZM457.5 140.0L456.5 141.0L454.8 137.4L456.1 136.9ZM320.6 161.5L322.8 154.4L324.1 157.2L322.0 163.4ZM319.1 154.2L320.4 154.0L322.0 157.7L321.9 159.0L319.5 159.9L318.1 156.3ZM309.0 130.4L309.6 135.7L306.6 137.4L304.9 132.3L306.7 129.9ZM385.1 172.8L386.5 171.0L389.7 172.8L389.7 175.2L387.9 175.9ZM688.1 185.3L686.9 182.1L686.6 177.5L689.7 176.9L692.3 179.2L692.1 183.7ZM363.9 155.7L361.8 158.4L359.0 158.3L357.4 153.7L359.2 151.7L362.8 152.6ZM434.6 143.3L435.7 140.1L437.8 143.2L437.7 145.7ZM837.2 150.5L834.7 148.2L836.7 145.2L838.3 147.8ZM416.4 178.1L418.2 179.0L418.4 182.9L416.9 183.7L415.8 182.3L415.9 180.0ZM415.0 182.1L412.4 180.9L412.7 174.7L414.7 174.9ZM411.3 135.1L411.5 137.5L410.2 141.5L408.0 139.1L407.9 135.6L409.1 133.1ZM435.7 163.9L435.7 161.5L439.3 162.8L440.2 165.2L438.5 166.9ZM827.2 138.8L829.4 135.7L831.1 137.3L830.8 140.7L829.7 142.5L827.1 142.6ZM868.1 165.0L874.1 167.1L872.5 170.3L868.0 170.1Z"/>
<path fill="#a9b2bd" d="M449.0 170.6L446.3 172.0L443.1 167.9L443.7 165.5ZM863.3 140.6L861.2 146.1L858.1 142.9L859.3 138.3ZM813.4 177.9L810.4 176.4L810.8 173.3L813.3 174.2ZM473.1 157.9L471.2 161.0L468.1 160.4L467.2 157.0L469.9 154.5ZM761.3 169.4L765.9 169.0L765.2 175.0L761.2 172.7ZM749.6 170.8L746.9 172.1L744.2 170.0L747.4 166.7ZM444.4 163.2L442.4 163.5L440.3 158.5L442.1 155.6L444.7 157.3ZM232.7 135.8L230.2 130.7L232.2 128.3L235.2 130.0L236.5 133.9L235.6 135.7ZM416.0 162.1L414.6 166.5L413.4 167.6L410.9 164.9L410.7 162.3L412.9 160.4ZM601.0 183.0L599.9 186.3L596.9 185.6L597.0 180.1L599.2 179.7ZM755.5 157.1L758.5 153.7L760.8 157.4L756.8 159.8ZM612.8 183.3L612.4 180.7L616.0 180.5L616.6 184.7L614.3 186.2ZM599.3 137.6L600.6 135.9L602.6 137.4L602.8 141.2L601.7 142.6L600.2 140.7ZM538.7 150.6L540.4 148.9L542.7 154.7L540.2 155.3ZM852.2 163.0L851.1 157.1L854.1 157.5L855.7 162.1ZM633.7 145.1L633.8 141.8L636.7 141.3L639.4 143.9L638.8 146.8L636.8 149.0ZM595.8 154.6L596.3 156.4L594.5 158.2L593.6 157.2L593.0 154.6L593.8 153.3ZM838.5 159.8L839.0 155.6L841.4 154.4L842.5 156.7L841.5 160.5L839.9 161.2ZM571.6 146.4L572.9 149.2L571.0 153.1L568.9 150.9L569.2 147.1ZM392.4 167.9L390.0 166.1L389.1 163.9L390.4 162.9L393.1 164.5ZM444.7 145.5L443.7 147.6L441.3 146.7L441.9 143.7L443.8 143.0ZM397.2 153.4L402.6 153.8L402.3 158.9L399.4 161.8L396.8 156.2ZM764.3 142.7L761.0 144.9L760.7 141.6L762.8 138.1L764.7 136.5L765.5 139.8ZM696.1 158.5L697.2 156.8L698.5 158.4L698.7 161.4L696.0 161.0ZM752.4 128.5L751.2 126.5L753.4 123.6L756.2 126.7ZM860.1 150.4L854.8 150.2L856.1 145.4L859.0 145.6ZM822.3 167.3L824.7 167.7L825.6 171.3L823.9 175.4L821.0 174.9L820.2 171.6ZM774.4 134.8L775.1 137.8L771.6 140.7L769.7 137.8L770.5 134.9L772.9 133.5ZM231.0 183.2L229.8 182.0L229.6 178.8L232.2 180.4ZM678.1 152.2L680.2 153.3L679.2 159.0L677.7 158.4L676.1 155.0ZM431.8 163.0L436.5 164.1L437.0 166.5L432.9 165.6ZM879.2 128.7L875.7 130.5L872.7 124.2L874.3 122.7ZM264.2 165.0L266.2 162.2L267.0 164.2L266.5 168.9L264.6 169.0ZM740.0 130.2L743.0 129.0L743.6 132.1L742.1 135.9L738.9 133.9ZM855.5 171.1L855.4 169.1L858.9 166.2L860.2 169.9L858.4 172.4ZM336.2 135.8L334.1 135.0L333.7 130.5L334.8 129.9L338.0 133.7ZM839.0 181.9L839.9 184.9L839.2 186.5L838.4 186.4L837.3 183.6L837.9 181.6ZM569.9 148.6L568.6 144.9L569.6 142.0L571.9 145.7ZM650.1 122.6L652.0 125.3L650.9 132.1L648.2 127.1ZM699.7 155.0L701.4 155.8L702.4 159.2L701.1 161.7L698.7 161.6L697.8 157.6ZM685.7 180.9L684.5 177.4L688.6 174.9L691.1 178.6L689.8 182.3ZM680.9 131.5L684.0 135.7L682.9 139.5L677.2 134.0ZM730.4 133.9L730.7 129.2L736.0 128.1L737.1 132.4L735.1 136.0ZM508.1 144.4L506.3 144.9L504.6 143.9L504.4 140.5L505.8 141.0ZM561.6 157.9L560.2 156.2L561.9 152.1L563.4 152.7L564.1 156.2ZM591.7 173.6L589.1 175.9L586.9 174.0L586.8 169.8L587.7 167.9L590.9 168.9ZM730.8 133.5L733.6 132.4L736.0 136.0L735.2 139.4L732.8 139.5L731.1 135.7ZM420.8 179.9L416.2 176.9L417.0 172.0L421.1 174.6ZM298.3 167.2L295.7 166.7L296.1 163.4L297.9 160.1L299.8 160.7L299.9 166.1Z"/>
<path fill="#808994" d="M353.8 126.2L356.7 128.1L354.4 133.6L351.1 132.1ZM275.0 186.7L275.4 182.4L277.6 181.1L280.0 183.3L279.4 187.1L277.3 188.5ZM827.2 177.0L828.7 174.1L830.3 174.9L830.2 179.0L828.7 179.9ZM723.9 157.3L725.7 157.7L726.9 158.9L726.4 162.3L725.1 161.9ZM841.0 169.2L839.8 168.1L840.6 165.2L842.1 164.1L843.5 166.6L843.7 168.4ZM657.0 138.6L655.1 141.1L651.6 136.0L654.3 134.3ZM697.1 134.2L696.2 131.0L698.6 130.9L699.0 133.1ZM508.4 159.9L506.7 161.8L504.0 159.7L503.7 157.4L507.3 156.1ZM665.4 137.7L667.4 138.7L667.2 142.5L663.8 144.6L662.3 143.4L663.5 138.1ZM764.6 172.9L764.6 177.7L762.0 179.2L759.4 178.8L758.6 175.0L761.5 171.6ZM402.2 145.0L401.5 150.1L398.1 149.4L399.8 145.1ZM241.5 136.5L240.3 140.3L236.8 138.0L235.9 135.3L239.3 134.7ZM356.3 147.7L355.0 144.5L356.4 141.8L358.3 144.3L358.6 147.4ZM277.7 143.3L280.2 146.6L277.3 150.6L276.1 147.6ZM371.5 183.0L370.8 180.5L371.5 179.4L372.6 179.7L373.6 183.0L372.7 183.9ZM510.5 171.6L509.8 178.8L505.9 176.9L507.2 169.7ZM243.1 166.8L240.7 166.8L241.0 163.2L243.4 162.2L243.9 163.5ZM681.8 149.2L680.3 146.7L681.7 141.8L684.1 146.3ZM816.6 154.6L815.8 155.2L813.7 152.0L814.3 150.5L815.4 149.1L817.3 152.5ZM246.2 159.2L244.9 160.4L243.7 159.6L243.1 157.2L245.1 156.6ZM747.0 130.9L748.3 128.7L750.8 128.8L751.5 132.5L749.5 134.9ZM439.8 132.9L439.2 135.2L437.5 133.9L437.1 131.4L437.7 128.5L439.5 129.4ZM268.4 158.4L266.6 154.1L269.3 153.8L269.5 157.8ZM655.8 141.2L650.7 138.4L652.3 135.4L654.6 135.3ZM857.3 177.2L856.1 179.6L854.6 177.1L855.7 174.1ZM460.7 161.8L463.4 163.6L463.9 168.3L462.3 167.3ZM277.7 170.9L274.8 168.1L276.3 163.7L279.5 164.6L280.6 168.2ZM802.7 163.1L798.9 167.6L798.5 165.0L798.4 162.1L801.4 159.5L802.6 159.9ZM841.1 171.2L842.7 171.9L842.5 177.1L838.7 174.5ZM459.4 173.6L459.3 170.8L461.9 172.9L461.0 175.1ZM371.9 191.1L369.8 188.0L369.4 183.1L371.7 182.2L373.3 185.1L373.3 189.1ZM313.8 174.9L317.0 177.2L315.9 180.2L313.8 180.6L312.8 176.6ZM713.9 174.6L714.2 168.5L716.5 167.6L720.2 171.1L719.0 175.3L717.6 176.3ZM869.2 170.3L867.8 170.7L866.3 168.1L867.9 166.6L869.4 168.3ZM481.7 182.1L481.5 180.6L482.7 178.3L485.0 178.5L485.0 180.0L483.5 182.7ZM238.8 167.4L238.6 171.3L233.7 169.5L233.5 166.8ZM316.3 170.5L317.1 173.9L316.0 175.6L314.6 174.7L314.7 170.9ZM791.5 146.6L791.4 149.7L790.0 152.8L788.4 151.8L788.2 149.6L789.5 146.8Z"/>
<path fill="#f1f4f8" d="M745.7 128.3L746.3 132.8L743.6 135.1L741.1 132.3L741.2 127.9ZM511.1 137.6L511.8 141.8L510.0 141.2L509.2 138.1L509.4 136.8ZM378.4 150.2L376.5 152.5L374.9 151.3L374.9 148.9L376.8 147.8ZM508.3 132.6L507.8 133.8L505.9 133.3L505.1 132.2L506.4 130.2L507.4 129.9ZM274.9 175.3L273.9 174.8L272.6 173.8L274.4 170.6L276.2 171.0L276.5 172.1ZM412.8 157.2L412.2 153.1L413.6 151.0L416.5 155.9L415.4 158.0ZM745.0 183.5L744.1 179.4L745.0 177.3L747.3 178.8L749.3 184.0L746.9 185.2ZM510.7 166.1L508.8 166.8L507.6 165.2L508.0 162.9L509.9 162.7ZM813.8 126.4L814.6 131.8L809.8 130.7L811.2 126.6ZM861.0 137.6L862.3 141.4L859.6 142.2L858.6 137.6ZM683.2 163.2L686.3 162.1L687.4 165.4L685.2 167.4L683.3 167.2ZM358.3 161.3L359.1 159.7L360.6 161.7L359.2 163.6ZM789.6 181.8L791.8 179.6L792.7 181.6L791.5 184.1L790.2 184.0ZM733.7 181.1L736.0 177.7L738.2 179.1L734.9 182.8ZM769.2 168.9L768.1 172.6L766.0 171.2L764.6 167.7L766.1 165.2L767.6 164.8ZM215.4 158.1L212.2 156.2L212.2 152.5L215.9 153.3L217.0 156.0ZM215.1 178.5L212.8 176.1L213.3 173.1L216.0 172.8L216.9 176.3ZM697.1 130.7L696.9 132.6L693.8 131.7L693.9 128.5ZM254.0 174.3L254.8 177.3L253.4 179.5L252.0 177.1L253.2 174.1ZM713.5 181.1L712.8 183.6L711.0 183.7L709.8 182.0L710.1 180.1L711.8 178.4ZM339.5 143.5L337.8 144.4L333.1 143.0L333.1 137.9L336.0 137.6ZM596.4 137.6L597.1 133.7L599.5 131.9L602.5 135.0L601.1 138.8L598.9 141.1ZM846.4 159.0L845.9 154.1L848.4 151.0L850.5 151.2L850.4 157.8L848.5 159.7ZM674.1 145.3L675.6 146.3L675.9 147.7L675.3 149.0L673.7 148.6L673.7 146.9ZM729.8 176.6L726.8 171.7L729.2 169.3L731.2 173.3ZM654.1 145.6L656.7 152.2L654.9 153.6L651.2 151.4L650.4 146.0ZM847.8 156.4L850.1 158.1L850.1 160.8L848.2 161.4L847.4 160.3ZM578.7 182.3L580.7 180.6L581.5 185.0L578.9 185.0ZM380.2 132.4L377.6 132.8L378.3 130.1L380.7 129.3ZM675.9 160.0L675.1 157.3L675.4 155.7L676.7 156.4L677.7 159.3L677.9 161.4ZM303.6 155.1L301.9 159.8L299.8 159.5L298.7 153.9ZM518.5 150.0L514.6 152.3L512.2 145.2L515.2 144.1ZM532.1 176.5L530.7 179.7L527.8 178.3L528.0 175.5L530.4 173.9ZM503.1 149.1L501.3 149.3L499.3 147.5L498.9 145.6L500.8 145.6L503.5 147.4ZM288.5 177.0L287.8 180.2L284.7 180.3L283.5 179.3L283.9 175.2L286.7 175.5ZM641.0 182.5L640.1 183.8L638.0 183.0L638.4 180.4ZM621.6 138.1L622.3 142.5L621.2 144.9L619.6 143.1L619.0 141.0L620.2 137.9ZM761.8 161.4L763.6 162.9L761.5 165.6L758.3 167.0L759.1 162.7ZM478.1 129.2L477.2 130.6L475.9 131.0L474.9 129.3L476.0 127.5L476.9 127.2ZM664.0 133.2L660.7 131.0L660.6 128.2L663.6 127.0L665.5 129.8ZM227.5 139.5L227.2 136.1L229.7 133.5L229.3 138.2ZM368.0 163.1L366.1 161.2L366.3 160.2L367.6 160.2L368.7 161.5L369.2 162.8ZM758.3 131.0L757.1 133.8L754.1 132.1L753.8 130.3L756.6 129.3ZM585.9 162.7L584.0 164.5L583.6 163.8L584.0 161.6L585.2 160.3L586.2 161.7ZM744.7 129.9L745.4 134.1L742.9 136.1L738.5 133.6L738.6 130.1L741.4 128.3ZM375.8 167.5L375.7 170.9L374.0 171.8L373.0 166.9ZM233.3 157.8L233.5 160.8L231.2 160.2L228.9 155.9L229.8 155.0ZM691.5 136.5L689.4 133.5L690.5 131.3L692.9 135.3ZM589.3 139.8L591.6 139.7L591.1 144.3L589.9 146.8L588.0 146.1L587.8 143.8ZM747.0 177.9L746.3 177.5L745.9 174.1L746.8 174.1L747.8 175.0L748.1 177.1ZM817.3 133.8L818.6 135.7L816.2 139.0L814.1 137.6L814.5 132.7ZM318.0 125.0L319.4 126.5L320.4 128.9L318.5 130.3L317.0 129.0L316.6 125.9ZM790.0 179.1L791.6 183.6L790.2 186.8L788.6 185.6L786.4 181.7L787.9 179.5ZM773.7 159.8L776.1 161.9L774.7 164.0L772.3 164.2ZM528.5 133.5L529.5 136.7L527.2 137.4L524.1 135.5L523.9 132.8L524.5 130.8ZM479.4 153.7L481.6 152.9L482.4 158.2L479.4 160.4L477.9 159.9ZM473.0 169.5L473.9 168.2L477.4 170.6L477.7 172.7L475.0 173.9L473.3 172.7ZM529.2 145.6L526.9 146.9L526.7 143.7L526.8 142.0L528.7 141.2L529.7 142.7ZM789.1 167.7L790.8 165.9L791.4 166.4L791.0 170.1L789.4 170.7ZM645.6 141.7L645.8 145.9L643.1 146.2L641.9 143.5L643.0 139.3ZM328.9 159.8L330.6 164.3L329.8 164.7L327.4 161.5ZM405.7 166.7L404.2 171.5L402.5 173.7L399.3 167.6L402.4 164.6ZM231.2 181.8L235.1 177.8L235.4 185.6L231.8 187.0ZM375.8 169.4L376.6 169.8L377.1 172.8L376.1 173.0L375.4 170.8ZM762.2 149.6L758.6 148.8L760.0 142.4L764.0 144.7Z"/>
<path fill="#eaeef4" d="M387.8 146.0L389.2 143.8L390.3 146.0L390.0 148.3L388.2 149.1ZM260.8 148.9L260.7 147.2L261.7 146.8L263.1 147.2L263.4 148.9L262.2 150.6ZM832.0 151.9L831.9 153.0L830.7 153.6L829.8 152.7L830.4 150.2L831.3 149.9ZM354.5 162.7L352.5 163.4L351.1 161.9L352.7 159.5L353.6 159.2ZM796.0 123.5L797.2 127.5L796.8 129.6L794.9 130.2L793.8 125.9L794.6 122.5ZM326.0 158.4L327.5 158.8L328.8 162.2L327.9 163.7L325.3 160.1ZM653.8 130.3L653.9 134.1L649.3 134.2L650.6 129.9ZM404.0 147.8L400.9 148.9L398.3 144.4L398.9 142.4L402.2 143.0ZM571.4 138.0L569.1 133.4L572.4 130.0L573.6 137.4ZM824.6 179.3L824.1 182.8L819.6 181.8L821.5 177.7ZM765.1 164.5L767.3 168.3L763.5 171.0L759.0 162.7ZM674.0 131.9L671.3 123.9L673.7 123.1L676.3 129.7ZM735.5 160.6L734.8 162.9L733.7 162.0L734.2 159.3ZM485.8 151.0L485.6 147.4L490.6 143.6L489.5 149.3ZM808.2 140.8L809.9 145.9L808.4 150.1L804.2 149.6L804.6 141.3ZM800.8 137.0L806.1 141.5L805.1 146.2L801.0 145.3ZM742.7 161.7L745.7 160.2L748.2 163.5L747.3 165.9L743.8 167.1L742.3 165.2ZM316.4 154.2L314.8 152.7L315.2 151.6L316.9 152.4L317.6 153.9ZM813.2 180.7L814.7 178.1L820.4 181.2L819.3 186.4L814.4 185.4ZM548.6 177.2L547.9 171.9L551.3 168.9L551.9 175.1ZM254.2 158.9L258.5 158.8L259.0 164.7L255.7 164.3ZM865.1 158.3L863.3 160.4L862.1 153.9L863.5 153.9ZM836.4 150.2L834.9 149.3L833.6 144.7L833.9 142.3L837.1 144.1L838.0 149.0ZM820.0 147.6L820.5 142.6L822.8 140.4L824.8 147.9L821.7 149.9ZM632.5 140.8L631.3 140.3L631.8 138.3L633.2 136.2L633.8 137.2L633.7 138.6ZM420.1 190.5L418.4 187.5L420.0 182.7L421.8 182.9L421.2 188.3ZM567.1 157.7L565.7 154.6L566.7 154.3L567.8 156.5ZM432.7 133.2L431.2 137.3L427.8 137.6L427.7 133.2L430.7 129.9ZM874.9 181.2L875.5 177.9L876.6 178.3L876.8 181.7L876.0 182.7ZM666.4 131.4L668.4 130.1L669.8 134.3L667.6 135.0ZM687.4 174.9L685.7 171.7L688.1 163.6L690.4 167.1ZM237.6 179.3L233.6 180.4L235.0 174.4L239.0 175.9ZM736.0 169.2L734.6 165.0L738.5 163.8L739.9 165.7L739.0 170.1ZM513.9 153.5L518.0 148.5L518.9 152.3L515.9 157.3ZM737.2 160.3L736.5 161.3L735.9 161.2L735.8 159.3L736.7 158.1L737.4 158.6ZM574.4 170.5L571.7 173.0L569.1 169.1L570.1 166.6L572.7 164.5ZM674.7 139.2L676.4 139.6L677.2 141.8L675.5 141.3ZM546.0 177.1L544.9 173.9L546.7 172.0L548.4 174.2L548.6 176.7ZM279.7 144.6L281.2 140.1L282.8 140.7L284.4 143.7L283.6 146.9L281.6 148.9ZM651.4 152.0L651.0 154.2L649.8 155.3L649.6 153.0L650.5 151.3ZM810.6 132.5L811.6 138.3L808.8 138.4L809.0 132.9ZM594.4 151.1L593.2 154.7L589.3 152.4L590.0 147.5L593.6 147.7ZM269.8 166.3L269.3 162.0L273.1 165.1L272.0 168.0ZM752.6 147.7L751.0 150.6L748.7 147.6L750.3 145.5ZM671.3 144.8L671.4 143.3L673.4 142.6L673.8 145.7ZM462.3 185.3L463.0 180.2L465.7 179.3L467.2 180.8L464.1 187.0ZM463.8 172.6L463.9 175.3L462.3 174.9L460.6 172.1L460.4 169.8L462.0 169.8ZM475.9 182.1L472.9 178.5L473.9 174.4L476.5 175.1L478.1 181.9ZM684.8 165.5L685.4 158.7L690.1 162.6L688.8 165.8ZM779.8 145.5L783.3 147.6L781.9 150.5L777.1 153.9L774.7 153.0L777.3 146.9ZM226.7 163.7L227.6 167.6L225.6 169.2L224.5 169.5L222.8 165.1L223.8 162.9ZM842.5 125.7L842.2 131.4L838.0 129.0L840.5 123.8ZM337.6 144.3L337.0 145.5L335.7 145.1L336.4 142.7L337.4 141.8ZM614.3 145.0L613.5 140.5L615.7 140.2L615.7 144.6ZM221.4 123.0L222.6 127.6L219.3 131.6L217.7 129.3ZM774.6 129.8L770.0 125.7L771.7 123.2L773.4 122.8L777.4 126.0L776.6 130.1ZM475.2 144.1L474.8 141.1L475.1 139.6L478.2 142.5L478.3 144.0L476.7 145.6ZM234.2 160.2L235.4 166.5L229.2 167.6L228.3 160.0ZM347.5 149.8L348.4 152.5L346.8 153.4L345.1 150.7L346.0 149.7ZM716.4 148.7L713.0 146.7L711.8 139.5L716.7 142.5ZM311.5 174.9L310.2 176.9L307.8 175.8L308.2 172.1L309.5 172.2ZM226.6 166.1L226.3 170.6L224.2 171.2L222.2 168.8L222.0 164.7L224.9 164.0ZM512.6 149.1L513.5 151.2L513.4 153.4L511.9 154.4L511.0 151.6L511.2 150.1Z"/>
<path fill="#f7f9fc" d="M766.1 161.3L768.1 162.4L769.2 165.1L769.3 167.2L766.8 166.2L765.6 163.3ZM620.7 140.4L619.9 136.8L624.6 134.0L625.5 137.4ZM755.1 124.4L757.1 123.9L756.6 128.5L754.9 128.9ZM557.7 175.4L561.4 169.6L562.4 174.8L560.0 177.6ZM723.1 149.3L724.8 152.4L723.9 154.1L719.9 150.8L719.4 148.3ZM350.8 169.5L350.7 173.2L348.2 174.9L347.8 168.4ZM300.0 127.6L299.9 125.4L301.8 124.9L302.8 127.5L302.2 129.2ZM657.4 174.0L656.5 169.5L658.1 167.8L661.9 173.1L661.0 176.8ZM445.7 165.0L448.4 167.9L446.1 173.5L441.4 171.7L441.7 165.1ZM282.6 142.8L280.2 139.9L280.7 135.4L283.0 137.0L284.1 140.0ZM534.5 168.5L536.8 170.5L536.9 176.8L534.6 175.0ZM377.8 137.9L376.5 137.9L375.8 137.6L374.8 133.9L375.7 133.1L377.1 135.0ZM461.5 140.8L463.1 138.6L464.3 140.5L462.7 141.9ZM217.9 179.9L216.1 182.1L213.3 180.6L212.8 177.7L214.4 175.1L217.5 176.7ZM626.8 152.9L625.6 155.6L623.1 156.3L622.9 153.5L625.6 151.7ZM295.9 155.4L298.4 151.1L301.3 155.5L299.0 160.3L297.2 160.8ZM218.8 180.3L220.2 182.1L219.4 185.4L216.4 184.1L216.3 181.5ZM629.6 124.8L631.3 129.5L630.0 131.6L626.6 132.7L625.1 130.3L627.3 125.0ZM711.1 129.4L715.5 130.1L715.9 135.3L712.6 137.4L710.2 134.3ZM446.9 130.1L446.1 124.5L449.3 122.7L451.9 125.2L450.5 130.5ZM474.7 149.6L475.6 151.9L474.2 156.0L469.7 153.5L470.3 148.5ZM680.8 152.3L680.7 153.7L679.6 153.5L678.4 150.3L678.9 149.8ZM641.4 129.4L646.2 130.2L646.6 133.2L643.0 133.5ZM473.6 179.3L471.7 174.3L472.7 171.3L476.6 171.1L479.2 175.8L476.7 180.9ZM211.1 165.0L211.8 169.6L208.1 167.3L206.6 163.2L206.9 161.6ZM435.5 165.1L436.5 161.7L439.4 160.7L440.2 163.0L440.3 167.5L437.8 167.6ZM808.6 166.7L806.6 166.6L807.5 163.9L809.7 163.1L810.5 163.3ZM424.0 130.2L426.6 128.3L427.5 129.5L427.2 133.3L424.8 135.9L423.3 133.2ZM875.6 173.8L874.7 177.9L872.7 178.8L871.2 178.1L871.5 174.9L873.9 172.5ZM376.7 146.7L373.9 146.3L376.0 142.4L377.6 142.4ZM825.6 137.6L828.0 135.3L830.1 138.4L827.4 142.2ZM585.0 157.0L584.6 154.7L585.6 153.4L586.8 152.7L587.0 156.4L585.9 157.5ZM481.4 178.3L479.5 183.5L477.9 182.6L480.0 178.2ZM445.1 180.1L442.9 184.0L441.4 180.6L442.0 175.1ZM661.7 136.8L663.1 136.6L663.7 138.4L662.9 139.7L661.0 139.3L661.2 137.6ZM802.5 168.2L799.3 166.7L798.8 164.4L801.1 162.9L803.1 164.6L803.7 166.9ZM830.3 157.3L829.3 160.7L825.1 155.7L826.9 153.9ZM641.2 133.1L641.4 130.8L646.0 131.7L644.6 135.3ZM648.0 170.5L650.2 171.4L647.5 174.6L646.7 173.9ZM620.6 179.0L619.9 175.7L620.4 172.9L621.8 173.1L623.5 177.6L622.3 178.9ZM546.1 171.0L545.7 167.0L548.7 168.2L548.9 173.5ZM780.4 135.0L778.6 134.8L778.4 131.8L781.4 130.8ZM672.8 127.9L674.4 129.9L674.1 131.6L672.6 132.4L671.0 130.4L671.3 128.5ZM262.1 128.1L263.6 125.5L267.2 127.4L268.2 131.3L267.9 133.5L263.3 130.2ZM575.8 182.9L578.0 183.9L577.5 187.3L574.8 186.0ZM800.4 137.6L796.1 130.4L800.0 128.7L802.9 131.8ZM213.4 176.5L209.3 177.1L208.2 171.6L210.0 170.4ZM823.9 143.3L825.5 147.9L823.2 151.0L822.1 144.3ZM337.0 152.9L336.3 154.6L335.0 154.8L334.2 153.3L335.6 151.0L336.2 151.3ZM410.6 143.4L412.3 140.7L413.4 143.5L411.5 145.2ZM862.0 182.9L862.0 184.6L860.4 185.0L858.4 182.0L858.7 180.1L860.6 180.6ZM619.2 165.4L619.2 168.2L616.7 168.6L615.2 166.5L615.4 164.3L618.0 162.7ZM445.0 163.7L446.8 162.5L446.8 166.0L445.5 166.4ZM746.4 165.2L747.8 164.2L750.0 165.9L750.3 167.5L749.2 169.5L747.2 169.0ZM583.5 134.7L585.6 136.9L584.4 139.2L580.5 143.3L579.3 141.3L579.6 137.8ZM325.3 182.2L329.0 182.5L330.2 184.8L328.0 185.4L325.1 183.3ZM308.0 136.3L309.5 136.2L311.6 138.6L308.6 140.3L307.6 138.7ZM633.6 172.6L637.1 171.8L639.2 175.3L639.0 179.3L635.3 181.0L633.7 178.3ZM292.0 156.6L287.4 156.0L285.7 154.5L287.0 149.6L290.9 150.4L292.2 152.2ZM750.6 137.5L750.6 144.0L745.8 143.2L745.4 137.4ZM392.8 168.4L391.5 165.6L393.2 162.6L395.1 163.1L395.0 166.7ZM210.7 131.3L209.0 127.9L209.9 125.7L211.5 125.0L212.2 129.5ZM736.7 125.1L738.5 126.9L737.2 128.5L735.5 127.0ZM266.9 168.2L266.9 166.0L270.1 166.4L271.7 169.0L270.9 172.2L268.5 171.8ZM425.6 182.6L424.9 185.9L422.3 183.6L423.7 180.5ZM332.3 137.6L334.1 135.1L337.3 137.3L337.5 142.0L334.6 141.9ZM268.8 129.8L267.3 129.3L266.4 126.9L267.2 125.4L268.8 127.4ZM262.3 174.9L263.3 179.2L261.2 179.1L259.9 177.1ZM785.4 172.6L784.7 170.7L785.8 167.3L787.3 167.6L788.0 171.1L787.5 172.8ZM544.3 185.4L542.9 182.6L544.6 180.8L546.0 181.7L546.1 185.1ZM481.7 161.3L479.7 157.5L481.5 151.5L484.9 156.1L484.3 159.1ZM598.9 165.3L599.6 168.3L597.1 171.6L596.8 167.2Z"/>
<path fill="#6c7580" d="M757.0 144.2L757.4 145.8L756.4 146.0L755.6 144.4ZM538.2 164.1L537.2 163.2L538.3 161.1L539.3 162.2ZM752.1 168.0L752.7 165.8L754.9 167.7L753.9 169.3ZM454.9 178.4L456.0 179.1L456.4 180.8L454.5 181.9L453.5 180.6L453.4 179.6ZM325.0 148.1L325.5 149.5L324.2 151.9L323.4 150.5ZM526.8 176.0L526.2 175.8L525.5 175.2L526.1 174.4L526.8 174.1L527.1 174.9ZM604.8 132.7L605.3 133.8L604.5 134.5L604.1 133.4ZM833.3 149.3L831.9 151.1L831.0 149.9L831.4 147.5ZM461.4 183.4L460.4 182.1L461.0 180.4L462.8 180.1L463.1 182.8ZM444.8 177.0L445.0 176.0L445.7 176.0L446.7 176.9L445.7 177.8ZM465.5 134.5L465.6 136.0L464.3 137.0L462.8 136.6L462.7 134.5L464.0 133.3ZM445.9 131.3L445.5 130.3L446.6 129.8L446.5 131.0ZM349.0 128.3L350.0 127.9L350.6 128.5L350.0 129.7L349.0 129.6ZM324.9 136.0L325.7 138.6L324.3 138.4L324.1 136.6ZM615.1 155.8L614.6 154.9L615.8 154.3L616.1 155.7ZM820.2 178.4L820.6 177.5L822.0 178.7L821.9 180.3L820.9 180.2ZM354.9 160.6L355.9 160.9L356.3 161.7L355.6 162.4L354.6 161.1ZM463.5 178.9L462.6 177.6L464.0 176.4L464.8 177.4ZM874.0 143.8L874.5 145.1L873.5 144.8L873.4 143.8ZM219.7 185.9L218.8 186.0L218.1 184.9L218.2 184.4L219.4 185.2ZM583.0 135.3L582.1 136.2L580.4 135.5L580.7 134.4L581.7 133.5L582.6 133.6ZM599.8 176.0L598.6 176.7L597.0 176.1L596.7 175.0L597.4 173.9L599.0 174.1ZM326.8 159.3L327.3 158.4L328.4 159.1L328.4 160.3L327.6 160.8ZM467.3 132.5L468.4 132.7L468.1 134.2L467.2 134.2ZM480.1 160.4L482.3 160.8L482.6 163.1L481.4 163.6L480.0 162.0ZM264.7 161.8L265.0 162.1L264.5 163.0L264.0 162.9L264.0 161.9ZM833.0 173.9L834.0 173.1L835.5 174.0L835.2 175.8L834.3 176.0ZM832.3 146.4L833.3 147.4L832.7 148.4L831.4 147.5ZM577.0 175.1L577.7 173.8L578.7 174.4L578.7 175.9L577.4 176.0ZM643.4 158.4L643.2 159.8L642.1 158.6L642.3 157.7ZM289.0 123.7L289.7 123.7L290.5 125.2L290.6 126.2L289.4 126.3L288.7 125.4ZM288.9 148.6L288.1 146.8L289.2 145.6L290.4 146.8ZM386.0 162.7L386.7 163.0L386.5 164.3L385.5 163.9ZM838.7 134.1L838.1 134.3L837.2 133.9L837.4 133.1L838.2 132.7L839.1 132.9ZM250.7 165.4L249.4 165.2L249.8 163.3L250.4 162.9L251.3 163.7ZM351.2 152.7L351.0 150.7L351.9 150.4L353.0 150.7L352.8 152.6L351.8 153.3ZM208.8 128.5L210.6 130.4L209.3 132.0L207.6 130.1ZM255.6 141.0L256.8 140.3L257.1 141.0L256.2 141.9ZM568.8 172.6L568.1 173.5L566.9 174.0L566.1 172.5L567.6 171.5ZM291.2 143.1L292.5 145.1L291.6 145.6L290.8 144.8ZM302.8 140.7L302.9 139.6L303.7 138.3L304.5 139.8L303.9 140.6ZM796.5 168.4L797.6 168.7L797.0 170.0L796.3 170.2L795.6 169.5ZM230.3 146.4L230.0 144.1L231.0 143.8L232.7 145.1L232.3 146.6ZM682.2 132.8L682.9 131.9L683.2 133.7L682.5 133.8ZM409.2 140.3L408.0 140.8L407.5 138.6L408.5 138.1ZM734.9 150.3L736.2 149.7L736.0 151.6L735.0 152.1ZM461.8 140.2L462.9 141.4L463.0 143.1L462.3 143.4L461.0 141.9L460.8 140.1ZM419.0 155.9L418.1 156.5L417.5 156.0L417.0 154.3L417.4 153.4L418.9 154.1ZM716.6 170.3L715.3 170.0L716.0 168.5L716.9 168.7ZM348.0 136.1L346.7 137.6L345.4 136.1L346.5 134.7ZM375.7 150.1L377.1 151.6L376.8 152.4L375.3 153.3L374.3 150.9ZM717.5 126.9L717.9 126.4L718.5 127.1L718.1 127.9L717.5 127.9ZM702.1 163.5L703.5 163.9L702.9 165.6L701.5 164.8ZM485.2 143.9L484.9 145.3L484.1 146.0L483.5 144.6L483.6 144.0L484.4 143.2ZM545.0 144.0L545.5 143.4L546.2 143.7L546.4 144.5L545.9 145.2L545.1 145.0ZM812.6 164.4L812.6 165.4L811.5 165.8L811.3 163.8ZM395.1 176.8L395.2 176.2L395.6 175.9L396.2 176.5L395.7 177.3ZM351.1 157.9L351.5 159.2L350.7 161.0L349.0 160.5L348.6 159.2L349.6 158.0ZM806.8 145.5L804.6 146.4L804.5 145.4L806.2 144.2ZM814.8 169.4L815.5 169.3L815.8 170.2L815.5 170.6L814.4 170.2ZM257.6 132.8L257.7 134.0L257.1 134.7L256.3 134.0L256.4 133.2L256.6 132.6ZM528.8 171.0L528.2 170.3L527.8 169.0L528.7 168.2L529.6 168.6L530.1 170.0ZM248.1 165.5L247.7 166.4L246.3 165.0L246.1 163.8L246.9 163.5L247.3 163.8ZM378.8 151.6L378.9 150.9L379.7 150.8L380.1 151.2L379.9 151.9L379.5 152.2ZM440.3 161.2L441.8 160.0L443.0 160.7L442.9 162.6L440.6 162.5ZM413.0 129.7L413.1 128.2L413.6 127.5L414.8 127.8L414.8 128.8L414.1 130.3ZM311.5 158.1L310.8 157.5L310.7 156.8L311.7 156.5L312.1 156.6L312.4 157.8ZM447.3 155.5L448.5 156.0L449.2 158.2L448.7 158.8L447.6 159.0L446.7 157.5ZM773.4 183.4L772.6 183.5L772.5 182.4L773.3 182.0ZM405.8 131.0L406.0 129.1L406.9 129.0L408.3 130.2L408.0 131.6ZM713.8 123.6L714.9 123.7L715.8 126.1L713.8 125.5ZM277.9 170.5L278.7 171.2L278.8 172.8L278.0 173.9L276.6 172.7L276.7 171.7ZM463.5 150.9L464.9 152.1L464.5 153.0L463.2 153.0L462.8 151.7ZM474.0 173.7L474.9 174.1L474.8 174.8L473.7 175.4L472.8 174.8L472.9 174.2ZM488.0 174.1L487.4 173.1L488.2 171.1L489.8 172.2L489.9 173.8ZM659.4 129.6L661.0 129.8L662.2 131.2L660.8 132.7L659.1 132.7L658.8 131.4ZM335.5 140.6L336.2 140.1L336.9 140.7L336.8 141.6L335.6 141.5ZM558.7 178.5L557.3 177.3L557.6 175.9L558.4 175.4L559.8 175.9L559.4 177.8ZM276.0 142.1L277.1 142.4L277.4 143.2L277.0 144.0L276.1 143.6ZM688.1 183.7L688.5 184.8L687.8 185.5L686.7 185.2L686.6 184.3ZM274.0 129.0L274.7 128.2L277.2 128.4L277.8 129.1L276.8 131.4L274.7 130.7ZM689.8 173.4L691.5 173.3L691.5 175.3L690.7 175.7ZM850.2 161.6L849.3 160.9L849.1 159.1L850.1 158.8L851.0 160.0L851.1 161.5ZM747.7 180.1L748.3 181.8L747.3 182.8L746.3 182.8L746.6 179.8ZM720.9 183.7L720.2 183.8L719.8 182.1L720.3 181.1L721.6 181.0L721.8 182.5ZM506.3 149.4L506.9 148.4L508.8 147.5L509.0 148.8L506.9 150.8ZM219.2 179.8L220.4 182.0L219.4 183.0L218.0 182.1L218.4 180.0ZM350.9 163.6L352.5 164.3L352.1 165.7L351.0 166.5L350.4 165.0ZM353.5 146.7L351.7 145.9L351.6 144.6L352.8 143.3L353.8 143.4L354.8 145.7ZM410.1 174.8L409.5 175.4L409.0 174.7L409.2 173.7L410.1 173.6ZM619.9 150.7L619.7 149.9L620.4 149.2L621.2 149.9L621.2 150.7L620.6 151.2ZM880.4 168.0L880.4 166.1L881.9 165.7L883.3 167.2L882.9 168.2L881.6 168.9ZM282.2 155.3L282.7 155.2L282.7 156.5L282.0 156.8ZM639.9 135.1L638.6 134.0L640.7 132.3L640.9 133.4ZM233.0 176.4L232.7 175.6L232.7 174.8L233.4 175.0L233.7 175.6L233.7 176.3ZM808.3 128.4L807.7 127.6L807.6 126.7L808.1 126.0L808.7 126.4L808.9 127.2ZM542.5 154.4L543.1 155.1L542.0 156.1L541.2 154.7ZM553.8 133.0L554.5 132.5L555.3 134.1L553.9 134.8ZM647.1 164.4L646.6 162.8L648.4 161.3L649.3 162.8L648.1 164.8ZM881.0 144.7L881.2 143.7L881.8 144.0L882.5 145.5L882.0 146.0L881.6 145.8ZM798.6 168.3L797.7 167.5L798.3 165.7L799.1 165.8L799.9 166.5L799.6 168.1ZM610.7 174.8L609.6 174.9L609.3 173.7L609.7 173.3L610.8 174.1ZM745.9 180.4L745.6 179.0L746.9 177.2L748.0 178.7ZM318.3 179.2L318.1 178.3L319.2 177.5L320.1 178.0L320.1 179.3L319.2 179.9ZM238.9 139.5L240.0 139.1L241.0 141.1L240.5 142.5L239.5 142.5L238.4 140.1Z"/>
<path fill="#808994" d="M452.7 162.7L451.5 161.4L452.0 159.8L453.7 161.8ZM326.8 149.8L326.2 150.2L325.6 149.4L325.5 148.8L326.2 148.4L326.8 149.3ZM238.9 165.3L239.5 164.2L240.7 165.1L240.6 165.9ZM351.4 170.8L350.3 172.1L348.9 171.3L349.1 169.3L350.0 169.3ZM300.8 128.3L299.7 128.3L299.0 127.0L300.9 126.7ZM338.2 141.4L337.1 142.5L336.6 141.4L337.9 139.8ZM809.5 137.3L810.1 137.0L810.5 137.4L810.3 138.1L809.6 138.5L809.2 137.9ZM439.8 137.5L441.3 139.9L440.0 141.4L438.2 139.8ZM811.8 126.1L812.6 126.7L812.1 127.3L811.2 126.7ZM624.4 154.5L625.8 154.8L625.7 156.1L625.3 156.6L624.3 156.8L623.9 155.1ZM380.8 127.5L380.9 126.8L381.9 125.7L382.5 126.3L382.8 127.5L381.8 128.3ZM730.0 171.2L731.6 171.7L732.0 172.8L730.1 174.7L728.9 173.9L728.7 171.8ZM829.1 169.5L830.3 171.2L828.3 172.7L827.6 172.0ZM674.6 129.7L673.4 128.6L673.1 127.2L674.1 126.4L674.7 126.6L675.2 128.2ZM239.0 161.0L238.3 160.3L238.8 158.9L240.1 159.0ZM298.4 133.8L297.7 134.9L296.1 135.1L295.5 133.9L296.5 132.1L298.0 132.3ZM523.2 133.2L522.2 132.5L522.2 131.2L522.8 131.0L523.4 132.2ZM350.2 154.5L351.4 154.0L352.6 155.4L352.4 157.2L351.5 157.0L349.8 155.6ZM603.5 180.9L602.3 180.2L603.3 179.4L604.1 180.6ZM224.7 137.6L225.0 136.4L226.5 135.8L227.5 137.0L227.5 138.5L226.1 139.4ZM456.2 124.2L456.6 123.4L457.2 123.5L457.2 124.8L456.6 125.3ZM381.5 160.4L379.6 161.0L379.0 160.2L380.8 158.2ZM809.4 144.5L810.1 143.4L812.1 144.2L812.6 146.0L811.3 147.0L809.7 146.3ZM837.2 129.4L836.1 128.1L836.7 126.7L838.3 126.5L838.9 128.0L838.1 129.2ZM727.9 179.8L728.3 181.6L727.1 182.2L726.5 180.2ZM312.0 135.1L313.3 137.0L312.3 138.6L310.6 138.0L310.2 136.9L311.3 134.9ZM329.7 135.6L329.0 134.4L330.3 132.2L331.4 133.4L331.2 135.9ZM628.4 142.8L627.8 141.1L628.8 140.5L629.5 141.1L629.3 142.8ZM306.3 165.9L305.6 165.5L306.2 163.7L307.0 164.7ZM214.6 146.2L215.4 146.3L216.3 147.8L215.0 149.3L214.2 149.4L213.5 147.5ZM692.5 161.1L692.2 160.1L692.8 159.5L693.5 160.3L693.2 161.1ZM454.0 136.2L455.7 134.9L456.6 137.4L455.3 138.1ZM588.1 164.0L588.0 162.9L588.8 162.6L589.7 163.6L589.2 164.2ZM603.3 143.0L602.2 143.2L601.8 142.0L602.1 141.5L603.1 141.3L603.7 142.1ZM840.6 138.3L840.8 136.9L841.6 136.8L842.8 138.4L842.3 139.5ZM647.5 129.9L648.4 130.3L648.2 132.4L647.3 132.9L646.8 131.6L647.0 130.2ZM643.4 141.6L643.0 139.9L643.6 139.6L644.3 140.1L644.5 141.5L644.1 142.1ZM234.1 164.4L233.3 162.5L233.9 161.8L235.8 163.4L235.1 164.6ZM770.3 129.8L770.6 129.9L770.9 130.6L770.5 131.2L770.0 131.0L770.0 130.5ZM486.7 130.3L486.1 131.5L484.0 131.3L483.9 128.9L485.3 128.3ZM383.9 181.0L384.0 180.5L384.6 180.5L384.9 181.0L385.1 181.7L384.3 181.5ZM595.4 125.8L596.7 128.5L595.7 128.9L594.7 126.8ZM579.7 158.0L580.3 158.5L579.7 159.8L579.2 159.6ZM700.3 128.6L700.0 129.6L699.2 129.9L698.7 129.2L699.0 127.6L699.9 127.5ZM318.2 146.5L318.2 146.0L319.1 145.5L319.5 145.7L319.6 146.5L318.6 147.0ZM315.6 150.1L316.0 150.1L316.6 150.6L316.7 151.4L315.9 150.9ZM627.4 154.8L626.1 153.5L626.6 152.1L627.4 151.9L628.5 153.2ZM610.0 162.3L608.5 161.9L608.5 160.9L609.6 160.4L610.4 161.4ZM408.1 148.9L408.5 149.5L407.4 150.5L407.0 149.8ZM600.2 127.9L598.7 128.4L598.1 126.6L598.8 126.0ZM838.8 147.5L839.1 146.7L840.2 147.5L840.0 148.6L839.3 150.1L838.7 149.5ZM654.8 165.2L653.3 164.3L653.7 162.9L655.0 163.1L655.4 163.9ZM565.8 180.6L564.2 182.0L564.1 180.9L565.7 179.7ZM410.3 166.3L411.1 164.7L412.3 165.6L412.4 167.6L411.1 167.9ZM616.2 176.6L615.7 176.0L615.8 174.5L616.6 174.0L617.2 175.3ZM476.0 183.0L476.4 181.6L477.5 181.4L478.0 182.3L478.1 183.5L477.1 183.9ZM390.8 151.5L390.5 152.7L389.2 152.5L388.6 152.2L388.9 150.5L390.2 150.5ZM380.8 143.3L381.8 144.0L381.9 144.7L381.3 145.3L380.2 144.5L380.2 143.5ZM868.5 183.5L868.0 183.5L867.6 182.8L868.1 182.2L868.7 181.7L868.9 182.6ZM794.5 185.6L794.5 185.0L795.3 184.7L795.7 185.5L795.1 186.1L794.6 186.1ZM210.9 182.9L211.5 181.8L212.2 181.5L213.4 182.5L213.2 183.8L211.9 183.9ZM384.8 146.8L384.8 148.6L383.9 148.7L383.3 147.8L383.4 146.7L384.0 146.1ZM624.0 143.7L624.4 142.7L625.6 143.6L625.3 145.3L624.3 145.5ZM263.9 130.8L263.1 131.0L262.7 130.6L262.3 129.4L262.7 129.0L263.4 129.6ZM741.0 151.8L740.4 151.7L739.8 150.4L740.2 149.9L741.0 149.7L741.6 150.6ZM320.5 161.5L322.6 161.0L323.1 163.4L322.0 164.3ZM786.3 160.8L785.4 162.2L784.2 161.5L784.4 159.5ZM641.0 143.1L639.9 142.1L640.2 141.1L641.7 140.6L642.1 141.5L642.0 142.8ZM712.3 142.7L711.8 141.9L712.4 140.3L713.7 140.8L713.8 141.8L713.0 143.2ZM721.5 173.3L721.2 172.0L721.9 171.7L722.7 172.9L722.6 173.8ZM648.8 184.3L649.9 183.5L651.3 183.7L651.5 184.9L650.2 186.3L649.1 185.8ZM328.7 181.0L328.5 181.8L327.5 181.8L327.1 180.8L327.6 180.3ZM440.2 140.2L440.7 141.3L440.5 142.6L438.5 142.9L438.4 140.9ZM251.8 174.6L252.2 175.6L252.0 176.0L251.3 175.1ZM731.8 185.2L732.5 184.2L733.5 184.6L733.3 186.5L732.2 186.4ZM787.1 178.7L787.3 180.3L786.5 180.8L785.8 179.5L786.5 178.3ZM507.9 156.6L506.5 155.7L507.7 154.5L508.8 155.4ZM458.6 162.6L458.4 164.2L456.8 163.7L457.3 161.7ZM438.5 154.4L438.4 155.0L437.8 154.9L437.4 154.5L437.5 153.6L438.0 153.5ZM438.8 143.0L439.6 142.2L440.4 143.4L440.2 144.0L439.2 144.4ZM553.8 134.8L554.3 134.6L554.9 135.2L554.6 135.9ZM504.2 143.5L504.1 144.3L502.8 144.9L502.5 143.7ZM242.0 153.4L242.2 152.9L243.4 152.3L243.9 153.4L243.7 154.2L242.5 154.4ZM365.6 182.0L366.1 182.5L365.9 183.3L365.6 183.7L364.9 183.3L364.8 182.4ZM697.8 158.1L697.2 157.2L697.4 156.2L698.0 156.2L699.0 156.8L698.8 158.0ZM367.0 148.9L366.2 146.7L368.2 146.7L368.6 149.4ZM607.5 151.6L607.0 149.9L607.7 149.0L609.0 149.3L609.5 150.5L608.7 151.8ZM814.2 125.5L814.7 123.5L816.5 123.4L817.2 124.3L816.6 126.3L814.8 126.2ZM398.0 130.9L397.9 129.8L399.1 127.8L400.0 129.2L399.6 130.2ZM460.7 176.3L461.8 177.1L461.3 178.6L459.7 177.7ZM224.8 146.0L224.9 147.0L223.3 147.4L222.2 145.5L222.9 144.3ZM698.1 174.6L697.7 173.1L698.7 172.7L699.4 173.4L698.9 174.6ZM215.8 175.2L216.3 174.3L217.1 175.2L216.6 176.1ZM770.9 148.2L771.1 149.3L770.3 150.1L769.0 149.6L769.5 147.9ZM225.7 145.8L226.8 145.8L226.9 147.9L226.1 148.3L224.7 146.8ZM716.6 167.1L716.9 166.1L717.7 166.1L718.0 167.0L717.5 167.5ZM428.4 143.6L427.9 145.4L426.3 145.1L426.2 143.7L426.1 142.8L427.5 142.5ZM256.3 182.8L255.7 181.9L255.8 181.2L256.5 181.2L257.1 182.0L257.1 182.4ZM756.6 170.1L756.5 169.1L757.3 169.1L758.7 169.9L758.7 170.5L758.1 170.9ZM637.2 152.3L636.3 151.5L637.2 150.3L637.8 150.6ZM366.2 180.4L368.2 179.6L368.5 181.7L366.3 181.5ZM780.8 132.1L779.9 132.3L778.8 131.4L779.0 129.7L780.1 129.1L781.4 130.6ZM556.3 147.6L555.9 148.0L555.3 147.2L555.5 145.9L556.1 146.3ZM540.3 130.2L542.0 130.8L542.1 132.3L540.9 132.5ZM209.1 177.4L209.1 176.1L210.0 175.3L210.6 175.7L211.5 176.4L210.5 177.6ZM526.6 144.8L526.2 143.9L526.6 143.6L527.1 143.7L527.7 144.3L527.5 144.9ZM419.4 180.7L421.2 181.1L420.3 182.7L419.2 181.8ZM541.5 172.6L541.2 173.6L540.4 174.2L539.9 173.4L540.1 172.3L540.8 171.8ZM776.0 126.4L776.4 127.5L775.9 128.5L774.5 128.4L773.6 127.7L774.5 126.1Z"/>
<path fill="#5d6671" d="M304.1 151.9L303.9 151.0L304.7 150.7L305.3 151.8L304.7 152.4ZM630.4 140.9L631.0 141.7L631.1 142.7L630.6 143.2L630.0 142.2L630.0 141.4ZM579.8 150.6L581.1 151.6L581.0 152.2L580.0 153.1L579.2 153.2L579.0 151.7ZM829.8 169.2L828.2 169.0L827.7 167.3L828.7 166.7L830.0 167.5ZM318.9 156.3L318.4 157.2L318.0 156.9L318.3 155.6ZM654.2 170.9L653.7 170.1L654.4 168.7L655.4 169.0L655.9 170.6L655.2 171.2ZM301.2 148.2L303.9 147.7L304.3 149.5L302.1 149.9ZM570.3 138.0L569.9 139.3L569.5 139.4L569.0 138.1L569.5 137.3ZM311.2 132.2L311.3 131.6L312.1 131.8L312.2 132.8ZM729.3 177.3L731.1 178.1L730.2 179.6L728.8 178.3ZM665.1 158.1L663.7 158.1L663.4 156.4L664.0 156.1ZM719.2 170.2L718.4 170.5L717.6 170.1L717.7 169.1L718.5 168.7L719.2 169.2ZM535.2 125.7L535.5 126.6L535.3 127.1L534.3 126.7L534.3 126.0ZM853.8 147.5L854.1 148.8L853.3 149.2L852.6 148.2ZM316.2 165.0L315.4 164.0L315.7 162.8L316.8 162.8L317.1 164.4ZM480.4 159.0L479.8 158.5L479.7 157.2L480.9 157.2L481.5 157.7L481.7 158.7ZM714.4 131.5L715.0 131.0L715.5 131.6L715.2 132.6L714.7 132.3ZM869.5 131.4L869.9 132.0L869.8 132.9L869.3 133.1L868.7 132.7L868.8 131.9ZM863.6 160.8L863.6 159.9L864.5 158.9L865.4 159.4L865.1 160.9L864.2 161.5ZM817.4 159.5L817.3 157.9L818.7 157.9L819.5 159.6L819.5 160.9L817.9 160.4ZM814.5 145.7L812.8 145.6L812.5 143.3L814.7 143.9ZM771.5 178.2L773.3 176.6L775.3 177.7L775.2 179.5L772.6 180.2ZM302.8 166.2L304.1 165.5L304.7 165.7L305.4 167.3L304.2 168.1L303.4 167.3ZM842.3 186.6L841.0 186.6L840.5 186.2L841.1 184.5L842.1 184.5L842.7 185.9ZM482.9 162.5L483.3 164.7L482.4 165.3L481.9 164.6L481.5 162.6L482.1 161.9ZM318.1 171.1L318.7 172.5L317.8 173.1L316.7 172.9L316.6 171.9L316.9 171.2ZM512.4 126.9L511.4 126.8L511.6 124.2L512.6 124.1L513.1 125.7ZM298.9 125.9L297.9 124.9L298.4 124.2L299.6 125.1ZM404.9 132.6L405.9 132.6L406.2 135.3L404.2 134.0ZM415.2 171.2L415.0 170.1L415.7 170.1L416.1 171.0L415.9 171.3ZM843.0 135.9L844.0 136.1L843.8 138.2L842.8 138.5L841.9 137.4ZM439.5 140.8L439.5 140.0L440.5 139.8L440.8 140.7L440.1 141.4ZM451.7 137.9L450.4 138.3L449.5 136.5L450.4 135.2L451.6 135.5L452.2 137.0ZM542.3 130.8L540.8 130.9L540.0 130.4L540.2 128.2L541.2 128.3L542.1 129.2ZM768.7 127.1L768.4 125.6L768.8 124.6L769.9 124.8L770.1 126.4L769.5 127.9ZM455.7 164.7L454.7 163.9L455.0 163.2L456.0 163.4L456.2 164.1ZM227.9 172.9L228.9 173.5L229.3 175.2L228.1 175.6L227.0 175.3L226.9 173.4ZM619.7 143.0L619.6 144.2L618.7 144.6L618.2 144.5L617.7 143.4L618.1 142.8ZM507.2 146.2L507.6 146.8L507.1 147.4L506.0 147.4L506.2 146.0ZM403.0 180.5L402.1 179.7L403.4 177.9L404.8 178.6ZM535.4 141.8L536.6 143.6L535.8 144.6L535.0 144.7L534.4 143.2L534.8 141.9ZM647.7 126.8L646.2 126.9L645.3 124.6L646.5 123.7L647.4 124.8ZM783.6 175.8L785.0 175.0L785.5 177.7L784.0 178.1ZM511.2 144.9L510.5 144.0L511.2 143.1L512.0 143.2L512.5 145.3ZM534.2 149.4L533.8 151.0L533.0 150.9L532.2 149.5L532.6 148.1L533.6 148.2ZM763.2 150.8L762.2 150.8L762.1 149.6L762.7 149.2L763.4 150.1ZM303.1 136.8L303.9 137.5L303.6 139.0L302.1 139.4L301.6 138.1ZM873.8 134.8L873.1 134.8L872.0 132.2L872.7 131.9L873.8 132.4ZM326.3 140.8L325.0 140.8L324.3 138.1L325.3 138.0ZM306.7 170.4L307.8 170.8L308.2 171.8L307.3 173.0L306.6 172.9L305.8 171.4ZM477.8 166.4L477.6 165.2L478.5 165.0L479.0 165.9L478.5 166.8ZM782.0 135.8L782.4 135.2L783.2 135.5L783.4 136.6L782.8 137.4L782.1 137.2ZM833.5 168.3L832.8 168.2L831.8 166.7L832.6 165.7L833.5 165.5L833.9 166.5ZM317.4 137.9L318.1 137.9L318.3 138.9L318.1 139.8L317.3 139.8L317.1 139.3ZM862.4 177.2L862.8 177.3L863.1 178.6L862.7 179.1L862.1 178.6L861.8 177.9ZM537.8 174.9L537.1 176.8L536.3 176.3L537.0 174.0ZM358.9 161.9L358.5 160.0L360.5 159.8L360.5 161.6ZM404.4 165.0L403.7 165.7L403.0 164.8L403.1 163.7L403.7 162.6L404.4 163.6ZM689.5 187.1L688.8 187.0L687.9 185.8L688.2 185.0L689.6 185.4L689.9 186.1ZM662.7 158.7L663.9 158.6L664.3 159.6L664.1 160.4L663.3 160.4L662.4 159.3ZM340.7 168.6L339.8 169.0L339.7 167.7L340.3 166.9ZM360.9 166.1L361.5 164.1L362.5 164.2L363.0 165.7L361.3 166.8ZM544.3 162.5L544.8 161.6L546.2 162.8L546.4 164.3L545.6 164.3L544.4 163.5ZM711.8 169.1L713.4 169.0L713.4 170.3L712.6 171.3L711.3 170.1ZM438.5 165.5L439.0 166.3L438.5 166.9L437.9 166.7L437.6 165.8ZM397.6 173.7L397.3 174.9L396.0 173.4L395.7 171.5L397.3 172.4ZM379.8 138.1L378.2 135.6L379.3 135.4L380.7 136.3ZM541.5 152.9L540.6 150.4L542.7 150.0L543.0 152.1ZM674.8 140.9L676.1 142.1L675.8 143.3L674.6 143.9L673.6 142.1ZM593.4 157.1L593.1 155.7L593.8 155.3L594.6 155.9L594.2 156.6ZM798.8 154.9L799.1 154.4L800.0 154.6L800.1 155.3L799.6 156.0L799.1 155.9ZM458.7 127.6L459.9 126.3L461.6 127.8L461.1 128.9L459.4 129.2ZM698.7 166.8L699.9 167.2L699.9 167.9L699.2 168.3L698.5 167.5ZM259.3 178.2L258.8 180.4L256.9 179.8L257.1 178.4ZM751.6 136.0L750.4 136.6L750.2 133.9L751.8 133.4L752.4 135.0ZM838.3 149.8L838.6 149.2L839.3 149.5L839.6 150.2L838.9 150.6ZM871.7 161.9L870.2 164.1L869.0 163.5L868.9 161.3ZM401.0 167.5L402.7 165.4L405.0 167.0L403.0 169.5ZM403.9 128.0L404.9 128.5L404.7 131.2L403.4 130.2ZM293.0 182.0L294.3 181.5L295.3 182.1L294.7 184.1L293.9 184.3L292.5 182.9ZM582.0 157.5L582.3 156.3L583.4 156.6L583.3 158.1L582.3 158.3ZM356.8 148.9L357.6 147.1L359.2 147.6L358.4 151.0ZM293.9 128.1L295.3 129.9L294.7 131.6L293.3 131.3L292.9 129.5ZM658.4 135.4L658.9 136.9L657.9 138.0L657.5 135.8ZM688.5 140.5L689.1 141.1L688.6 141.9L688.2 141.3ZM458.2 164.9L457.3 164.5L457.7 163.5L458.3 163.6ZM527.9 135.6L526.6 135.2L527.3 133.8L528.0 134.1ZM294.7 130.4L294.1 130.3L293.4 129.3L294.1 128.6L294.8 128.6L295.1 129.4ZM850.1 129.1L850.3 128.1L851.4 128.3L850.8 129.3ZM740.2 159.4L740.4 158.4L741.1 158.3L741.6 159.3L741.4 160.3ZM225.1 174.0L224.4 175.1L223.1 173.7L223.0 172.4L223.7 171.9L224.7 172.6ZM235.0 136.3L235.3 135.9L235.7 135.9L236.1 137.0L235.5 137.2ZM727.3 182.3L727.8 183.6L727.1 184.1L725.5 183.3L725.6 182.5ZM299.1 170.1L298.4 170.7L297.3 169.7L297.2 168.4L298.4 168.1L299.3 168.9ZM816.1 133.3L816.7 133.3L816.3 134.3L815.7 134.7L815.2 134.8L815.6 133.6ZM477.3 142.1L478.5 141.6L479.1 142.9L478.8 144.4L477.3 143.4Z"/>
<path fill="#949da8" d="M415.5 181.4L416.5 181.2L417.1 182.2L416.3 183.2L415.3 182.6ZM683.5 136.8L684.4 138.1L684.3 139.8L683.0 139.9L681.9 139.0L682.3 137.2ZM246.5 168.5L247.1 168.5L247.7 169.6L247.3 170.9L246.5 170.3L246.0 169.2ZM342.6 176.2L341.6 176.8L339.9 175.4L340.9 173.5L342.2 173.8ZM283.7 139.1L284.9 137.6L286.0 138.6L285.4 140.2ZM655.8 174.2L654.8 173.3L655.2 171.5L656.5 171.3L656.7 172.8ZM794.5 129.0L794.9 128.5L795.5 129.3L795.5 129.9L794.8 130.3L794.6 130.0ZM764.2 163.0L763.5 162.5L763.5 161.5L764.2 161.5L764.4 162.3ZM831.0 139.6L832.0 140.7L831.0 141.8L830.2 141.6ZM344.3 182.6L342.9 181.6L343.5 180.7L344.3 181.9ZM632.0 134.5L630.2 134.7L629.7 132.6L631.3 132.3ZM344.4 145.4L344.3 146.9L342.7 147.2L342.4 146.1ZM403.9 173.1L404.1 175.0L402.0 174.5L402.4 172.9ZM249.7 156.7L251.7 157.8L250.4 159.7L249.2 159.0L249.1 157.6ZM589.4 136.2L588.2 135.0L589.6 133.2L591.0 134.1L591.1 136.3ZM377.2 153.2L377.0 154.2L376.0 154.8L375.5 153.9L375.9 152.5ZM495.5 129.8L495.9 132.2L494.6 132.9L493.1 132.0L493.0 129.9L494.7 129.0ZM615.7 129.2L615.8 130.5L614.2 130.9L613.9 130.2L614.5 128.3ZM804.4 168.1L803.7 168.3L803.5 166.9L804.7 165.6L805.0 166.2ZM260.6 130.4L259.8 130.4L259.3 129.8L259.5 128.9L259.9 128.2L260.8 128.9ZM733.5 179.7L734.7 179.9L734.7 180.7L733.3 180.9ZM417.8 143.0L417.3 144.9L415.4 144.0L415.2 142.2L415.8 141.4ZM348.5 184.3L348.6 183.2L350.0 182.6L351.6 184.3L351.0 185.5L349.7 185.6ZM519.5 142.8L520.3 143.1L520.4 143.7L519.8 144.6L519.4 144.5L519.1 143.6ZM732.5 173.0L733.4 174.4L733.2 175.9L732.3 176.2L731.4 174.8ZM762.3 152.9L762.6 150.3L765.1 150.7L765.6 152.9L764.0 153.5ZM705.3 164.7L705.6 166.3L704.3 166.0L704.2 165.0ZM793.1 166.1L792.8 165.3L793.2 163.8L794.0 164.0L794.5 165.0L793.9 166.2ZM871.9 174.4L873.3 175.4L873.5 177.3L872.6 177.4L871.2 176.0L871.3 175.1ZM837.0 160.5L837.5 161.8L835.4 161.0L835.5 159.4ZM685.2 137.8L685.8 138.2L685.9 138.9L685.3 139.4L684.7 138.5ZM455.4 164.4L455.1 165.6L454.6 165.8L453.8 165.3L453.7 164.4L454.3 163.9ZM797.9 147.8L799.2 146.2L800.6 148.2L799.3 149.0ZM477.5 155.9L476.7 155.2L476.7 154.4L477.6 154.1L478.0 154.7L478.1 155.5ZM438.7 151.8L437.3 152.3L437.0 150.5L437.8 148.6L438.8 149.0L439.6 150.2ZM880.5 166.2L881.1 167.8L880.3 168.9L878.9 168.0L879.4 165.6ZM213.1 162.3L214.4 162.2L215.5 164.2L214.3 165.3L212.8 165.1L212.1 164.0ZM830.6 150.6L829.7 150.4L829.2 149.7L829.7 148.6L830.9 148.9L831.2 149.5ZM441.3 161.8L440.0 160.7L440.0 159.0L440.5 158.5L442.0 160.0L441.8 160.8ZM777.7 167.2L777.7 165.8L778.1 164.9L779.5 164.9L779.7 166.4L778.9 167.5ZM267.0 176.8L266.8 177.9L265.5 178.3L265.2 177.0L266.2 176.1ZM805.8 125.3L806.3 122.9L809.2 124.8L807.8 126.2ZM438.4 156.9L438.0 156.3L438.8 154.9L439.4 155.4L439.4 156.3ZM590.6 171.8L590.6 173.7L588.9 173.7L588.4 171.3ZM548.5 142.5L548.4 141.5L548.9 141.3L549.6 142.1L549.3 142.6ZM871.2 126.4L871.3 127.6L870.9 127.9L870.4 127.6L870.0 126.3L870.4 125.9ZM315.0 125.7L316.5 126.6L315.8 128.1L314.3 127.3ZM610.5 149.5L609.9 148.6L610.3 147.8L611.3 147.9L611.6 149.0ZM862.6 146.4L862.3 147.0L861.7 146.8L861.6 146.1L862.2 145.6ZM718.9 181.0L720.5 179.2L721.9 180.0L722.5 180.7L721.6 182.6L719.8 182.1ZM763.8 182.6L763.8 184.1L762.9 184.6L761.9 183.4L762.4 182.4ZM455.7 150.8L456.3 150.1L457.6 151.7L457.0 153.2L455.6 152.6ZM513.1 179.5L512.7 178.3L513.8 177.0L515.0 178.3L514.5 179.5ZM589.4 165.5L590.4 165.9L590.2 167.0L589.1 167.1L588.7 166.5ZM607.9 144.3L606.3 144.3L606.7 143.2L607.2 143.0ZM212.9 175.7L212.9 174.4L213.6 173.7L214.2 174.0L214.4 175.5L213.4 176.2ZM720.9 181.4L721.9 180.9L723.4 182.3L723.4 183.7L721.9 183.8L720.8 182.5ZM492.3 149.7L492.2 150.9L490.7 151.1L490.5 149.8ZM863.0 128.4L862.7 128.8L862.2 128.1L862.4 127.3L862.8 127.6ZM815.2 151.4L814.2 151.3L813.8 150.6L814.6 149.5L815.3 149.5L815.8 150.2ZM391.4 145.3L392.0 145.3L392.3 146.4L391.4 145.9ZM459.6 132.0L460.8 132.5L460.9 134.3L460.1 135.8L459.2 135.4L459.0 133.6ZM226.4 171.9L225.9 171.9L225.6 171.4L225.7 171.1L226.1 170.6L226.4 171.2ZM691.8 168.2L691.3 169.3L690.3 168.9L690.4 167.3L691.0 166.5L691.8 167.2ZM824.0 141.1L823.3 141.9L821.9 140.5L822.6 139.7ZM674.0 127.5L675.0 129.0L674.7 129.9L673.1 130.4L671.8 128.9L671.9 127.2ZM572.9 131.5L570.9 129.7L572.4 128.5L574.1 129.1ZM496.9 160.0L495.6 159.4L495.4 158.8L495.8 157.7L497.3 157.7L497.5 159.0ZM576.6 140.3L575.6 138.1L577.0 137.8L577.5 140.0ZM674.8 150.1L674.0 148.7L674.6 147.7L675.2 149.4ZM578.7 125.4L579.9 127.1L579.7 128.7L577.5 128.9L576.6 126.9ZM284.7 127.9L285.3 127.1L286.2 128.6L286.1 129.3L285.2 129.3ZM712.0 133.3L712.5 132.9L713.3 133.6L713.6 134.4L713.2 135.1L712.6 134.9ZM851.0 179.4L852.1 181.3L851.6 182.8L850.4 181.9ZM473.8 125.6L472.1 124.5L474.3 122.7L474.9 124.6ZM397.5 122.9L397.7 125.5L396.5 125.1L396.5 122.8ZM785.1 140.1L784.0 138.2L785.8 137.2L787.2 138.3L787.1 139.9ZM727.3 171.0L725.7 170.1L725.9 169.0L727.6 167.5L728.7 168.2L728.6 169.9ZM502.2 178.6L502.8 177.7L503.7 178.6L503.7 179.6L502.7 179.9ZM646.9 150.0L647.4 150.8L647.2 151.6L646.7 151.8L646.4 150.8ZM750.7 156.4L749.2 157.4L747.7 157.2L747.5 156.0L748.4 154.3L750.4 154.7ZM290.9 156.1L291.6 156.6L291.9 157.2L290.9 157.9L290.3 157.0ZM807.0 153.5L806.3 154.1L805.9 153.1L806.6 152.7ZM553.8 163.2L553.1 162.0L554.1 160.3L555.1 160.3L554.9 162.6ZM871.9 149.6L872.7 149.2L873.4 150.0L872.0 151.2ZM465.0 184.4L465.5 184.5L465.3 185.2L464.7 185.8L464.4 185.6L464.5 184.6ZM618.4 164.0L618.3 164.9L617.7 165.7L617.1 165.2L617.1 164.4L618.0 163.6ZM279.8 133.3L280.2 134.4L278.9 135.3L279.1 133.7ZM382.0 157.5L382.7 157.1L383.5 158.1L383.7 159.0L383.2 159.3L382.5 158.9ZM507.1 175.9L506.7 177.3L504.2 177.0L504.1 175.5L506.1 174.8ZM666.2 150.7L666.7 152.0L665.0 153.8L663.5 152.0L663.8 151.2ZM402.4 149.8L402.4 148.5L403.3 148.2L403.6 149.1L403.3 149.8ZM211.4 140.3L211.5 139.8L212.4 139.5L212.4 140.6L212.1 141.2ZM302.6 180.5L303.1 180.9L303.4 181.9L303.0 182.2L302.1 181.9L302.2 181.2ZM490.6 160.2L490.8 159.4L491.9 160.0L491.9 160.7L490.9 161.1ZM253.5 141.2L255.1 141.5L254.9 142.7L253.5 142.0ZM809.9 170.2L808.5 171.5L807.7 170.0L809.0 168.2ZM635.6 162.2L635.7 163.1L634.9 163.9L634.4 163.6L634.4 162.3L634.9 162.0ZM424.2 167.9L424.1 167.0L424.5 166.9L425.2 167.5L425.1 168.0L424.7 168.5ZM561.1 154.9L561.4 155.2L561.1 156.1L560.5 156.1L560.0 155.3L560.3 154.8ZM809.1 139.3L807.1 139.7L806.9 138.2L808.1 136.9ZM818.8 165.5L817.7 166.2L817.2 165.4L818.5 164.4ZM651.3 137.3L652.1 139.4L650.3 140.2L649.7 138.2ZM457.2 182.6L456.0 181.7L456.0 180.8L457.2 180.5L458.1 182.2ZM669.5 133.3L668.9 133.8L667.8 133.5L667.6 132.3L668.3 131.6L669.2 132.3ZM593.5 146.3L594.9 145.6L595.6 147.5L594.2 148.9L593.3 148.3ZM315.3 142.2L313.6 142.9L313.4 140.0L314.6 140.1ZM576.4 177.8L578.2 177.7L578.3 179.5L576.6 179.6ZM235.4 139.3L235.2 138.5L236.0 137.9L236.8 138.3L237.0 139.2L236.7 139.5ZM563.5 160.4L563.5 159.8L564.2 159.4L564.6 160.0L564.7 161.0L563.9 161.0Z"/>
<path fill="#5d6671" d="M246.3 130.0L247.8 132.1L246.3 133.3L245.8 132.4ZM745.8 134.4L747.5 134.7L748.0 136.2L747.7 137.0L746.1 136.7ZM448.0 125.6L449.6 127.1L448.4 128.0L447.3 127.3ZM438.2 128.6L439.3 128.3L439.6 129.8L438.4 129.9ZM524.1 134.9L526.2 134.4L527.0 135.8L526.2 136.9L524.4 136.8ZM240.0 130.8L239.7 131.4L238.4 131.2L238.1 129.4L238.3 128.6L239.4 129.0ZM486.7 133.0L485.8 132.4L486.3 130.9L487.3 130.5L487.7 132.1ZM718.1 138.4L717.4 137.6L717.3 136.8L718.5 136.9L719.1 138.0L718.7 138.6ZM651.8 137.4L650.7 136.8L650.8 136.2L652.0 136.1ZM517.9 124.5L518.5 124.3L519.4 126.0L518.9 127.0L518.1 127.1L517.2 126.2ZM718.3 130.5L717.5 130.8L717.2 130.0L718.2 129.3ZM674.8 133.5L674.6 134.2L673.8 133.9L673.3 132.9L674.0 132.4ZM598.9 125.8L597.6 124.1L599.3 122.8L599.7 125.0ZM242.8 126.8L242.4 126.0L243.0 124.7L244.2 125.2L243.7 126.7ZM842.1 134.1L843.7 136.0L842.8 136.4L841.6 134.7ZM721.9 125.6L722.2 124.8L723.2 126.1L722.3 126.5ZM332.2 125.5L331.3 124.5L332.7 122.7L333.4 123.4ZM484.8 128.8L484.2 128.9L483.9 127.7L484.4 127.6ZM606.4 132.6L606.5 133.3L606.2 134.2L605.5 133.6L605.4 132.7ZM653.5 130.6L654.1 130.6L655.1 132.0L653.8 131.9ZM278.5 137.1L279.6 136.8L280.0 137.7L279.3 138.6L278.2 138.0ZM504.6 136.1L505.1 134.6L506.7 134.3L507.2 135.6L507.0 136.5L505.6 136.9ZM652.9 125.0L653.5 124.5L654.1 125.4L652.8 126.8ZM687.3 125.8L688.4 126.7L687.6 127.7L686.8 126.4ZM642.8 133.2L642.2 132.5L642.4 130.8L643.0 130.3L643.8 131.3L643.7 132.5ZM767.3 133.5L768.5 132.6L769.4 133.9L768.5 134.9ZM751.0 129.1L748.9 128.5L749.0 127.2L751.3 126.9ZM559.1 131.5L559.7 131.8L559.1 132.8L558.7 132.5ZM693.9 125.5L694.4 125.1L694.7 125.3L694.8 126.7L694.4 126.7L694.0 126.3ZM451.2 136.1L450.2 134.0L450.8 132.9L452.5 135.0ZM766.5 129.0L765.6 128.5L765.6 127.4L766.1 127.7ZM568.5 125.2L567.6 125.7L567.1 124.2L568.1 123.8ZM730.3 133.0L730.8 132.6L732.0 133.2L732.3 134.1L731.7 134.3L731.0 134.1ZM761.5 129.4L761.5 130.3L760.7 130.8L760.3 129.6ZM232.2 134.7L232.6 134.1L233.4 133.9L233.8 134.7L233.5 135.7L232.6 135.7ZM649.0 130.5L648.2 131.2L647.2 130.3L647.5 129.5L648.4 129.3ZM778.3 133.9L779.2 132.3L780.5 132.6L780.9 133.8L780.3 134.5L779.5 134.7ZM569.5 126.0L569.2 127.2L568.4 127.6L567.4 126.4L567.6 125.5L569.1 125.2ZM219.1 127.3L219.9 126.8L221.5 126.4L222.5 127.9L221.7 128.7L219.7 128.9ZM623.6 132.1L624.5 133.2L624.3 134.2L623.1 133.2ZM811.7 129.5L812.7 127.9L813.1 129.6L812.2 130.3ZM618.3 126.2L617.0 124.9L617.7 123.5L619.0 123.6L619.4 125.5ZM602.6 136.4L602.4 135.4L603.1 135.1L603.6 135.3L603.6 136.5L603.3 136.8ZM814.9 130.1L814.2 131.5L813.1 131.2L812.8 130.1L813.3 129.0ZM681.6 135.9L681.2 136.4L679.7 136.1L679.4 134.9L680.0 134.2L681.5 134.5ZM686.7 132.7L686.1 132.2L686.7 130.6L687.7 130.6L687.9 132.0ZM243.0 138.3L242.8 137.1L243.4 135.9L244.0 136.4L244.0 137.7ZM301.7 134.0L301.3 134.6L300.3 134.3L300.8 133.1ZM704.6 129.2L705.6 128.3L706.5 129.8L705.2 130.7ZM551.9 124.1L552.7 123.1L553.8 123.6L554.2 124.6L553.8 126.1L552.8 125.9ZM332.0 136.4L333.9 135.6L334.4 137.0L332.5 137.8ZM652.9 134.1L653.5 134.4L653.3 135.9L652.4 135.2ZM491.3 134.3L491.5 134.7L491.4 135.7L490.7 135.5L490.4 135.1L490.6 134.0ZM603.0 132.5L603.9 132.7L604.3 133.6L603.9 134.2L603.4 134.4L603.0 133.3ZM206.6 125.0L206.8 125.9L205.6 126.0L205.6 125.1ZM536.7 126.9L537.7 126.2L539.2 128.1L538.3 129.1L537.1 128.6ZM373.5 130.1L373.7 131.4L373.0 132.5L371.3 131.8L371.6 130.7L373.0 130.0ZM499.5 138.7L498.4 139.0L497.8 137.3L498.1 136.8L499.0 137.1ZM237.2 136.4L237.9 136.1L239.2 137.0L238.7 137.9L237.4 137.6ZM469.7 132.3L469.7 131.5L470.6 131.5L471.3 132.4L470.7 132.8ZM230.1 128.4L230.4 129.8L230.2 130.9L228.9 130.9L228.4 129.4L228.5 128.4ZM322.7 129.2L321.2 129.6L321.6 127.7L322.5 128.1ZM710.3 128.9L711.5 130.6L710.0 131.1L709.1 129.8ZM426.8 133.1L424.8 133.1L425.0 131.3L426.7 131.3ZM517.6 136.2L517.8 137.2L516.9 137.9L516.3 136.4ZM327.7 128.2L327.0 128.0L326.6 127.4L327.0 126.6L327.9 126.7L327.9 127.2ZM419.5 133.6L418.1 134.8L417.1 133.9L418.2 132.3ZM804.5 134.9L804.4 136.4L803.5 136.6L802.7 136.3L802.8 135.1L803.8 134.4ZM560.2 124.6L559.5 125.9L557.6 125.3L558.3 123.6ZM525.0 129.3L525.5 131.1L523.9 130.3L523.5 128.5ZM655.5 126.9L654.8 126.8L654.3 126.1L654.8 125.1L655.6 125.3L655.7 126.3ZM383.9 128.4L383.0 129.7L381.7 128.1L382.9 127.0ZM855.6 137.7L854.1 138.1L853.5 136.2L854.7 135.4ZM332.0 133.2L330.6 133.1L330.4 131.5L330.8 130.0L332.6 130.3L332.9 131.6ZM713.5 124.8L713.7 124.4L714.5 124.1L714.7 124.5L714.3 125.3L713.7 125.5ZM793.9 132.7L795.2 132.3L795.8 133.4L794.9 135.2Z"/>
<path fill="#707985" d="M604.1 136.1L605.0 136.8L604.0 137.8L603.5 137.0ZM722.5 125.8L723.0 125.3L723.5 126.0L723.1 126.6L722.6 126.6ZM595.4 135.5L594.6 136.1L592.8 134.5L595.1 133.5ZM266.4 136.1L265.4 136.7L264.8 136.2L265.1 134.4L265.8 134.5ZM603.8 135.4L605.6 135.5L606.0 137.3L604.3 137.2ZM540.1 130.0L540.4 128.7L541.9 128.7L542.1 129.9L540.6 131.4ZM247.2 128.9L247.6 128.0L248.2 127.6L248.4 128.1L248.2 128.8L247.7 129.0ZM871.4 128.5L871.5 129.9L870.4 131.0L869.4 129.4L870.6 127.8ZM235.1 136.8L233.6 136.2L233.4 135.3L234.8 134.8L235.2 135.6ZM659.5 128.3L658.2 127.3L658.1 125.9L659.3 125.2L659.9 125.8L660.1 127.4ZM620.3 131.0L620.4 130.5L621.2 130.5L621.5 130.9L621.2 131.8ZM814.4 125.6L815.9 125.6L816.5 126.8L814.9 126.6ZM446.5 131.6L446.0 133.1L445.0 133.3L444.6 132.1L445.3 130.6ZM852.2 129.8L851.9 131.0L851.1 130.3L851.2 128.8L851.7 128.7ZM229.5 132.8L229.1 133.1L228.2 131.8L228.8 131.0L229.6 131.7ZM667.5 129.6L666.9 130.5L665.8 130.5L665.3 129.3L666.2 128.5L667.3 128.6ZM281.9 138.9L281.4 138.4L281.2 136.7L282.0 135.9L282.7 136.1L282.7 138.0ZM407.7 129.3L408.9 128.8L409.4 130.2L408.2 131.6ZM861.1 123.6L862.0 123.8L862.3 124.7L861.8 125.7L861.1 125.9L860.6 125.0ZM538.3 126.7L537.9 127.5L537.0 127.6L536.7 126.6L537.0 126.0L538.3 126.3ZM677.8 133.2L679.5 134.1L679.2 136.0L677.9 136.1L677.4 134.9ZM337.7 134.0L338.6 134.6L338.5 135.7L337.5 135.8L337.1 134.3ZM742.1 132.3L740.2 131.1L741.0 129.9L742.6 131.3ZM460.4 138.4L461.2 136.8L462.7 137.7L461.6 139.1ZM704.8 138.0L703.3 137.5L703.4 134.8L704.8 136.6ZM284.0 129.2L284.3 128.8L284.9 128.5L285.0 129.3L284.7 129.7L284.1 129.8ZM225.4 131.2L225.8 131.0L226.4 131.8L226.2 132.6L225.5 132.5L225.1 131.8ZM222.0 126.6L221.8 125.9L222.8 124.6L223.6 125.5L223.4 127.1L222.5 127.8ZM511.9 126.0L513.3 124.7L514.4 125.5L514.7 126.6L514.1 127.9L512.5 127.2ZM268.4 136.3L267.4 134.8L267.6 133.9L268.8 133.2L269.6 133.8L269.5 135.4ZM819.9 132.6L819.7 131.7L820.6 130.2L821.2 131.1L821.2 132.4ZM576.4 137.9L575.9 138.3L575.1 137.8L575.4 137.2L576.4 137.1ZM234.5 125.3L233.6 124.3L234.1 123.2L234.7 124.4ZM612.4 128.4L613.3 128.7L613.4 130.4L612.0 130.6L611.5 129.2ZM333.4 131.2L334.3 130.8L334.4 131.4L334.3 132.7L333.5 132.5ZM537.4 129.2L537.3 130.2L536.6 129.8L536.8 129.0ZM529.8 132.3L529.9 131.2L530.5 130.6L531.3 132.2L531.0 133.3ZM601.8 135.6L600.8 134.8L601.0 134.4L602.3 135.1ZM423.7 124.2L422.6 125.2L422.5 123.9L423.3 123.0ZM268.8 124.1L269.8 124.6L269.5 126.2L268.7 126.6L267.8 125.5L268.3 124.5ZM862.2 133.7L862.7 132.5L863.4 133.2L863.3 135.0L862.7 135.2ZM462.6 129.6L462.8 128.0L463.1 128.2L463.7 129.1L463.4 130.5ZM276.9 136.1L276.7 134.9L277.4 134.4L277.9 135.0L277.6 136.3ZM642.7 131.0L642.2 133.0L641.1 132.3L641.4 131.3ZM636.2 131.1L637.6 132.8L636.7 133.8L635.6 133.1ZM450.6 135.0L450.2 136.0L448.9 135.8L448.9 134.3L449.8 134.0ZM371.2 131.1L370.7 132.5L370.1 132.9L369.0 132.2L369.2 130.8L370.1 130.4ZM560.2 134.0L560.9 134.2L561.0 135.2L560.0 135.4L559.8 134.4ZM589.2 130.0L589.4 129.2L590.1 129.5L590.4 130.5L589.9 130.8L589.3 130.6ZM448.0 132.1L447.9 133.2L447.1 134.0L446.2 133.6L445.8 132.0L446.5 131.4ZM735.5 131.1L736.4 132.0L736.1 133.0L734.9 133.2L734.6 131.7ZM676.7 129.1L677.5 128.7L677.6 129.2L676.7 129.9ZM234.7 136.4L235.3 136.6L235.5 137.4L235.2 137.9L234.6 137.7L234.2 137.0ZM340.4 130.1L341.3 128.7L342.2 129.9L340.7 131.3ZM342.0 130.7L342.5 130.1L343.2 130.3L343.5 131.1L343.3 131.5L342.6 131.3ZM214.4 125.6L215.4 126.7L215.2 127.7L214.2 128.2L212.8 127.4L213.0 125.8ZM374.9 124.6L375.4 124.5L376.1 125.1L375.7 126.1L375.3 126.2L374.5 125.7ZM644.7 130.8L644.1 131.3L644.0 130.5L644.2 129.8L644.7 129.9ZM640.8 125.8L639.1 126.6L638.1 125.5L639.7 124.4ZM643.6 126.9L643.6 128.1L641.9 128.8L640.5 127.8L641.2 126.0L642.6 125.7ZM505.6 137.2L505.2 137.7L504.7 137.2L504.5 136.1L505.0 135.6L505.7 136.4ZM267.6 125.9L266.6 125.1L266.8 123.5L267.7 123.4L268.9 125.8ZM384.8 132.3L384.1 132.6L384.0 131.3L384.3 130.8ZM759.1 131.0L759.7 130.5L760.6 131.2L760.5 133.5L759.9 133.7L758.9 133.1ZM539.8 130.3L538.2 129.3L538.6 128.5L539.9 128.4L540.6 129.5ZM606.0 131.9L604.5 133.3L604.5 131.9L605.2 130.6ZM444.2 129.0L443.4 128.5L443.5 127.9L444.2 127.5L445.0 128.2L444.8 128.6ZM313.4 128.7L313.0 130.4L312.5 130.7L311.3 129.5L312.1 128.4ZM308.9 128.3L307.6 127.6L307.7 125.8L309.0 127.1ZM250.7 133.0L251.4 132.4L252.0 133.1L250.8 134.5ZM372.2 123.0L373.0 123.5L373.2 124.7L372.6 125.2L371.9 124.1ZM362.4 135.4L361.5 136.3L360.3 135.7L361.1 134.3L362.0 134.5ZM844.2 136.7L843.8 135.9L844.5 135.1L845.3 136.3L845.2 136.9ZM373.9 129.1L374.1 130.8L372.7 131.0L371.0 129.8L371.2 128.7L373.4 128.4ZM751.1 136.6L750.2 137.4L749.3 136.7L749.7 135.3L750.8 134.5L751.2 135.2ZM746.1 123.5L746.6 122.9L747.3 122.9L747.4 123.9L746.5 125.8L745.8 125.4ZM230.4 125.3L230.5 123.5L231.4 123.0L231.5 124.6ZM803.0 126.3L803.8 127.0L803.7 127.9L802.7 127.9L802.2 126.8ZM832.6 131.9L833.5 131.8L834.1 133.0L833.2 133.6L832.5 133.7L831.9 132.7ZM701.7 126.3L700.6 126.9L700.1 126.6L700.1 124.9L701.2 124.6L701.8 125.3ZM329.2 127.1L329.4 127.9L328.8 128.8L328.3 128.3L328.5 126.8ZM465.9 129.2L466.2 130.8L465.3 131.1L464.4 130.3L464.9 129.0ZM541.4 131.3L540.6 131.0L539.9 130.1L540.3 129.1L541.7 129.7L542.1 130.4ZM528.8 131.4L527.2 130.0L528.5 128.4L529.5 130.3ZM482.6 135.1L481.6 136.2L481.0 135.0L481.7 133.0L482.7 133.2ZM490.1 134.1L488.9 133.2L489.1 131.6L491.3 132.5ZM524.6 137.0L523.8 138.5L522.5 137.6L522.6 136.4L523.6 136.3ZM853.2 133.2L853.1 133.7L851.8 133.1L851.7 132.6L852.4 132.4ZM479.7 135.2L480.6 135.1L481.2 136.0L480.6 136.8ZM838.9 128.7L839.7 130.8L838.3 131.7L837.2 129.1Z"/>
<path fill="#4f5862" d="M364.2 134.3L364.7 132.7L365.8 132.6L366.0 133.2L365.3 134.7ZM866.4 125.5L865.8 126.0L865.1 125.9L865.3 124.4L866.2 124.4ZM409.2 127.7L408.4 127.7L408.1 126.8L408.1 126.0L409.3 126.3ZM878.8 127.6L880.4 128.1L880.8 129.6L878.7 130.1L878.3 129.1ZM866.3 127.0L865.4 126.5L865.7 125.7L866.9 125.2L867.4 126.1L867.4 126.7ZM266.7 133.0L267.0 134.3L265.0 135.6L264.8 134.1ZM281.4 130.1L280.7 130.0L280.4 129.3L280.6 128.7L281.7 128.8L281.9 129.0ZM450.1 137.9L449.4 137.6L449.5 136.7L450.2 136.6L450.5 137.6ZM307.1 134.4L307.0 133.5L308.0 132.9L308.8 134.3L308.6 135.7L308.2 135.9ZM693.6 126.6L692.5 125.1L693.4 124.3L694.0 125.0ZM855.6 125.1L856.7 123.7L857.8 124.9L856.4 126.0ZM349.8 133.7L349.0 133.9L348.1 133.5L347.9 132.3L348.7 131.6L349.7 132.1ZM845.3 130.1L842.8 130.7L841.9 129.2L844.8 128.3ZM795.6 129.3L795.6 131.3L794.6 131.4L793.6 130.5L793.8 129.5L794.5 128.7ZM464.5 137.0L463.5 136.7L462.7 135.7L462.7 135.2L463.2 134.7L464.2 135.6ZM291.2 135.4L291.0 136.7L289.6 137.7L289.2 135.8ZM621.7 128.3L620.4 128.3L620.0 126.5L620.7 125.9ZM425.3 127.4L425.1 128.8L424.1 127.7L424.5 126.9ZM800.7 135.4L801.4 134.5L802.4 134.9L802.6 135.4L802.5 136.7L801.5 136.8ZM235.2 133.3L234.4 133.4L234.0 133.0L233.7 132.3L234.7 131.8L235.0 132.3ZM875.5 129.4L873.9 129.1L873.7 128.2L875.4 128.4ZM522.1 125.2L521.8 124.5L522.0 124.0L522.9 124.2L522.8 125.2ZM431.9 136.5L432.4 136.7L432.7 137.5L432.6 138.2L431.7 138.0L431.5 137.4ZM257.6 133.4L258.7 133.3L258.7 135.0L257.5 134.2ZM505.6 137.2L505.1 135.9L505.7 135.3L506.3 136.5ZM414.6 125.6L415.0 126.6L414.7 127.0L413.6 126.9L413.3 126.0ZM245.1 139.7L244.6 137.5L245.2 136.3L246.2 136.6L246.5 138.5ZM426.8 135.7L425.9 137.9L425.3 136.7L426.0 135.0ZM754.5 127.1L755.3 126.9L755.6 127.5L755.2 128.9L754.3 128.3ZM569.5 132.2L570.6 131.7L571.5 132.4L572.3 133.9L571.1 134.3L570.3 133.6ZM775.9 134.3L775.7 135.4L774.8 136.0L774.1 135.0L774.3 133.8L774.9 133.4ZM385.6 136.3L384.7 137.4L383.0 136.7L383.3 135.2L383.9 134.9L385.0 135.0ZM872.7 134.4L872.3 135.4L871.6 135.4L871.5 134.2ZM800.6 127.4L800.4 125.7L801.2 126.1L801.4 126.7ZM410.5 136.4L409.9 137.3L407.9 136.2L409.9 134.5ZM875.3 130.4L874.5 131.4L873.8 131.3L874.0 129.9ZM350.4 126.2L351.0 127.6L349.6 128.3L349.0 127.2L349.5 125.3ZM588.6 124.6L587.5 126.3L586.1 126.3L585.8 123.7L586.9 123.4ZM540.5 129.7L540.9 128.3L541.8 128.6L542.2 130.1ZM495.4 128.8L496.1 127.9L496.7 129.3L496.3 130.3L495.6 130.3ZM447.0 126.0L446.2 124.0L447.4 124.1L447.6 125.8ZM665.9 133.4L665.5 134.6L664.7 133.1L665.4 132.4ZM261.6 134.2L261.5 135.7L261.0 135.8L260.0 134.9L260.3 134.0L260.8 133.9ZM431.1 130.2L430.3 131.2L428.7 130.6L428.7 129.5L429.2 128.0L430.8 128.3ZM842.2 129.0L841.3 128.3L841.5 127.0L842.5 128.0ZM769.1 135.4L768.9 136.9L768.1 136.4L768.3 134.9ZM877.7 125.0L878.2 124.9L878.7 126.8L877.7 127.3ZM551.2 128.1L551.1 129.8L550.1 129.9L549.3 128.9L549.8 127.5ZM263.2 129.0L262.3 130.0L261.7 129.2L261.9 128.2L262.8 127.9ZM867.1 131.7L868.8 132.3L868.5 134.3L867.3 133.4ZM453.5 124.9L452.7 125.0L452.7 124.2L453.5 123.9ZM773.7 131.4L774.3 131.7L774.3 132.6L773.6 133.3L772.7 132.6L772.9 131.5ZM423.9 125.8L423.0 125.8L422.5 124.7L422.9 124.2L424.0 124.9ZM567.4 136.3L567.1 135.9L567.6 135.1L568.3 135.4L568.3 136.0L568.2 136.8ZM858.1 128.9L857.8 128.0L858.6 127.4L858.9 127.7L859.0 128.8L858.7 129.2ZM681.1 136.7L679.9 136.2L680.0 135.4L681.1 134.9L681.6 135.9ZM624.0 127.8L622.5 126.8L623.1 125.0L623.7 124.9L625.3 126.6L625.0 127.7ZM732.7 135.3L732.9 133.7L733.7 134.0L734.0 135.4ZM749.8 126.0L749.5 125.2L749.9 123.9L750.6 123.9L751.2 125.1L751.0 126.0ZM319.7 129.7L318.9 130.3L318.5 129.7L318.6 128.2L319.3 128.4ZM240.4 135.8L240.7 134.0L241.5 133.9L242.3 135.9L241.8 136.6ZM741.1 138.0L742.2 136.4L743.7 138.4L742.0 139.1ZM798.7 136.4L797.8 138.0L796.3 136.9L797.8 135.1ZM461.5 124.0L462.4 125.1L462.2 125.8L461.4 125.2ZM339.9 129.9L340.3 130.6L340.2 132.0L339.9 131.9L339.4 131.6L339.5 130.3ZM715.2 131.7L716.4 131.2L717.0 132.5L716.2 133.7L714.8 132.6ZM725.4 126.7L725.4 125.4L726.0 125.5L725.9 126.8ZM426.8 123.7L426.7 124.4L426.0 125.2L425.0 125.1L425.1 124.6L425.8 123.5ZM356.0 132.5L355.3 132.8L354.8 132.1L355.1 131.0L355.6 130.9L356.2 131.7ZM793.9 130.3L793.1 129.9L792.8 128.6L793.9 128.8ZM793.8 126.8L793.9 127.8L793.4 128.6L792.9 128.4L792.3 127.1L792.9 126.5ZM427.0 127.0L427.7 125.7L429.1 126.7L428.7 128.6ZM383.8 124.8L384.6 123.7L385.6 123.9L385.3 126.1L384.6 126.1ZM430.3 132.6L429.3 131.8L430.1 129.5L430.8 129.6ZM524.1 137.1L523.5 135.4L524.9 134.2L526.2 134.9L525.0 136.9ZM421.4 125.8L421.0 125.1L421.3 124.4L421.7 124.7L422.1 125.4ZM436.9 130.4L437.4 129.9L438.3 130.4L438.4 131.4L437.5 131.7ZM319.7 131.8L320.6 131.6L321.1 132.9L320.0 133.6ZM379.2 131.6L378.8 132.1L378.2 131.8L378.5 130.9L379.0 130.5ZM488.6 125.3L489.5 125.8L489.6 127.8L488.3 128.1ZM668.1 132.3L668.3 133.7L667.8 134.6L666.1 133.6L666.2 132.7L666.8 131.6ZM753.8 134.8L753.1 134.8L753.2 133.2L754.3 132.3L754.9 133.4ZM410.1 125.4L408.5 124.5L409.7 122.7L410.9 124.0ZM570.8 137.9L569.1 137.7L569.3 136.4L570.7 136.9ZM235.5 128.6L235.9 128.2L236.5 128.5L236.8 129.8L236.5 130.3L236.0 130.1ZM850.7 127.3L850.4 129.3L849.4 128.5L850.0 127.3ZM433.1 132.2L432.8 130.5L434.2 129.7L435.5 130.6L435.4 132.7L434.5 132.8ZM600.4 135.5L601.0 133.8L602.0 134.4L601.4 136.2ZM665.2 132.5L664.5 134.2L663.4 134.2L662.7 132.4L663.1 131.2L664.3 131.1ZM861.5 134.8L861.1 133.3L862.3 132.0L863.6 132.8L863.3 134.4L862.4 135.1ZM273.2 123.2L274.2 124.4L273.1 125.3L272.7 124.4ZM272.5 126.8L272.0 127.0L271.5 126.2L272.1 125.6ZM691.4 136.4L691.7 135.2L692.4 135.1L692.5 136.8L692.1 137.1ZM225.5 125.6L224.6 126.1L223.6 124.5L224.1 123.8L225.4 124.2Z"/>
<rect x="205" y="182" width="680" height="4" fill="#8b96a3" opacity="0.25"/>
<circle cx="235.5" cy="145.5" r="2.4" fill="#3f3733"/>
<path d="M234.6 143.9a1.9 1.9 0 1 1 2.6 2.6z" fill="#c9752a"/>
<circle cx="234.2" cy="163.3" r="2.4" fill="#3f3733"/>
<path d="M233.3 161.7a1.9 1.9 0 1 1 2.6 2.6z" fill="#c9752a"/>
<circle cx="281.0" cy="145.5" r="2.4" fill="#3f3733"/>
<path d="M280.1 143.9a1.9 1.9 0 1 1 2.6 2.6z" fill="#c9752a"/>
<circle cx="279.7" cy="163.3" r="2.4" fill="#3f3733"/>
<circle cx="280.1" cy="163.0" r="1.1" fill="#7a6554"/>
<circle cx="324.4" cy="145.5" r="2.4" fill="#3f3733"/>
<path d="M323.5 143.9a1.9 1.9 0 1 1 2.6 2.6z" fill="#c9752a"/>
<circle cx="323.1" cy="163.3" r="2.4" fill="#3f3733"/>
<circle cx="323.5" cy="163.0" r="1.1" fill="#7a6554"/>
<circle cx="366.0" cy="145.5" r="2.4" fill="#3f3733"/>
<circle cx="366.4" cy="145.2" r="1.1" fill="#7a6554"/>
<circle cx="364.7" cy="163.3" r="2.4" fill="#3f3733"/>
<circle cx="365.1" cy="163.0" r="1.1" fill="#7a6554"/>
<circle cx="408.0" cy="145.5" r="2.4" fill="#3f3733"/>
<circle cx="408.4" cy="145.2" r="1.1" fill="#7a6554"/>
<circle cx="406.7" cy="163.3" r="2.4" fill="#3f3733"/>
<path d="M405.8 161.7a1.9 1.9 0 1 1 2.6 2.6z" fill="#c9752a"/>
<circle cx="450.0" cy="145.5" r="2.4" fill="#3f3733"/>
<circle cx="450.4" cy="145.2" r="1.1" fill="#7a6554"/>
<circle cx="448.7" cy="163.3" r="2.4" fill="#3f3733"/>
<path d="M447.8 161.7a1.9 1.9 0 1 1 2.6 2.6z" fill="#c9752a"/>
<circle cx="492.0" cy="145.5" r="2.4" fill="#3f3733"/>
<path d="M491.1 143.9a1.9 1.9 0 1 1 2.6 2.6z" fill="#c9752a"/>
<circle cx="490.7" cy="163.3" r="2.4" fill="#3f3733"/>
<path d="M489.8 161.7a1.9 1.9 0 1 1 2.6 2.6z" fill="#c9752a"/>
<circle cx="534.0" cy="145.5" r="2.4" fill="#3f3733"/>
<path d="M533.1 143.9a1.9 1.9 0 1 1 2.6 2.6z" fill="#c9752a"/>
<circle cx="532.7" cy="163.3" r="2.4" fill="#3f3733"/>
<path d="M531.8 161.7a1.9 1.9 0 1 1 2.6 2.6z" fill="#c9752a"/>
<circle cx="571.0" cy="145.5" r="2.4" fill="#3f3733"/>
<path d="M570.1 143.9a1.9 1.9 0 1 1 2.6 2.6z" fill="#c9752a"/>
<circle cx="569.7" cy="163.3" r="2.4" fill="#3f3733"/>
<circle cx="570.1" cy="163.0" r="1.1" fill="#7a6554"/>
<circle cx="617.0" cy="145.5" r="2.4" fill="#3f3733"/>
<path d="M616.1 143.9a1.9 1.9 0 1 1 2.6 2.6z" fill="#c9752a"/>
<circle cx="615.7" cy="163.3" r="2.4" fill="#3f3733"/>
<circle cx="616.1" cy="163.0" r="1.1" fill="#7a6554"/>
<circle cx="660.0" cy="145.5" r="2.4" fill="#3f3733"/>
<circle cx="660.4" cy="145.2" r="1.1" fill="#7a6554"/>
<circle cx="658.7" cy="163.3" r="2.4" fill="#3f3733"/>
<circle cx="659.1" cy="163.0" r="1.1" fill="#7a6554"/>
<circle cx="702.6" cy="145.5" r="2.4" fill="#3f3733"/>
<circle cx="703.0" cy="145.2" r="1.1" fill="#7a6554"/>
<circle cx="701.3" cy="163.3" r="2.4" fill="#3f3733"/>
<path d="M700.4 161.7a1.9 1.9 0 1 1 2.6 2.6z" fill="#c9752a"/>
<circle cx="744.5" cy="145.5" r="2.4" fill="#3f3733"/>
<circle cx="744.9" cy="145.2" r="1.1" fill="#7a6554"/>
<circle cx="743.2" cy="163.3" r="2.4" fill="#3f3733"/>
<path d="M742.3 161.7a1.9 1.9 0 1 1 2.6 2.6z" fill="#c9752a"/>
<circle cx="785.0" cy="145.5" r="2.4" fill="#3f3733"/>
<path d="M784.1 143.9a1.9 1.9 0 1 1 2.6 2.6z" fill="#c9752a"/>
<circle cx="783.7" cy="163.3" r="2.4" fill="#3f3733"/>
<path d="M782.8 161.7a1.9 1.9 0 1 1 2.6 2.6z" fill="#c9752a"/>
<circle cx="827.0" cy="145.5" r="2.4" fill="#3f3733"/>
<path d="M826.1 143.9a1.9 1.9 0 1 1 2.6 2.6z" fill="#c9752a"/>
<circle cx="825.7" cy="163.3" r="2.4" fill="#3f3733"/>
<path d="M824.8 161.7a1.9 1.9 0 1 1 2.6 2.6z" fill="#c9752a"/>
<circle cx="859.0" cy="145.5" r="2.4" fill="#3f3733"/>
<path d="M858.1 143.9a1.9 1.9 0 1 1 2.6 2.6z" fill="#c9752a"/>
<circle cx="857.7" cy="163.3" r="2.4" fill="#3f3733"/>
<circle cx="858.1" cy="163.0" r="1.1" fill="#7a6554"/>
</g>
<polygon points="231.0,206.0 403.5,206.0 417.0,234.5 259.0,234.5" fill="url(#gPlate)" />
<polygon points="231.0,206.0 403.5,206.0 404.9,209.0 233.9,209.0" fill="#6e7174" />
<polygon points="512.0,206.0 683.0,206.0 673.0,234.5 513.0,234.5" fill="url(#gPlate)" />
<polygon points="512.0,206.0 683.0,206.0 681.9,209.0 512.1,209.0" fill="#6e7174" />
<polygon points="697.0,206.0 782.6,206.0 770.5,225.5 686.0,225.5" fill="#5a5c5f" />
<polygon points="697.0,206.0 782.6,206.0 780.7,209.0 695.3,209.0" fill="#7a7c7e" />
<g transform="translate(264.5 216.5) scale(1.00)" opacity="1.00">
<rect x="-5.5" y="-6.5" width="11" height="6" rx="1.5" fill="#808284"/>
<ellipse cx="0" cy="0" rx="8.5" ry="3.2" fill="#a3a5a7"/>
<rect x="-5.2" y="1" width="10.4" height="6" rx="1.5" fill="#96989a"/>
<ellipse cx="0" cy="7.6" rx="2.8" ry="2" fill="#b9bbbd"/>
</g>
<g transform="translate(276.0 229.5) scale(0.82)" opacity="1.00">
<rect x="-5.5" y="-6.5" width="11" height="6" rx="1.5" fill="#808284"/>
<ellipse cx="0" cy="0" rx="8.5" ry="3.2" fill="#a3a5a7"/>
<rect x="-5.2" y="1" width="10.4" height="6" rx="1.5" fill="#96989a"/>
<ellipse cx="0" cy="7.6" rx="2.8" ry="2" fill="#b9bbbd"/>
</g>
<g transform="translate(383.5 216.0) scale(1.00)" opacity="1.00">
<rect x="-5.5" y="-6.5" width="11" height="6" rx="1.5" fill="#808284"/>
<ellipse cx="0" cy="0" rx="8.5" ry="3.2" fill="#a3a5a7"/>
<rect x="-5.2" y="1" width="10.4" height="6" rx="1.5" fill="#96989a"/>
<ellipse cx="0" cy="7.6" rx="2.8" ry="2" fill="#b9bbbd"/>
</g>
<g transform="translate(388.5 229.5) scale(0.82)" opacity="1.00">
<rect x="-5.5" y="-6.5" width="11" height="6" rx="1.5" fill="#808284"/>
<ellipse cx="0" cy="0" rx="8.5" ry="3.2" fill="#a3a5a7"/>
<rect x="-5.2" y="1" width="10.4" height="6" rx="1.5" fill="#96989a"/>
<ellipse cx="0" cy="7.6" rx="2.8" ry="2" fill="#b9bbbd"/>
</g>
<g transform="translate(537.7 216.5) scale(1.00)" opacity="1.00">
<rect x="-5.5" y="-6.5" width="11" height="6" rx="1.5" fill="#808284"/>
<ellipse cx="0" cy="0" rx="8.5" ry="3.2" fill="#a3a5a7"/>
<rect x="-5.2" y="1" width="10.4" height="6" rx="1.5" fill="#96989a"/>
<ellipse cx="0" cy="7.6" rx="2.8" ry="2" fill="#b9bbbd"/>
</g>
<g transform="translate(537.7 230.0) scale(0.82)" opacity="1.00">
<rect x="-5.5" y="-6.5" width="11" height="6" rx="1.5" fill="#808284"/>
<ellipse cx="0" cy="0" rx="8.5" ry="3.2" fill="#a3a5a7"/>
<rect x="-5.2" y="1" width="10.4" height="6" rx="1.5" fill="#96989a"/>
<ellipse cx="0" cy="7.6" rx="2.8" ry="2" fill="#b9bbbd"/>
</g>
<polygon points="626.0,209.0 682.0,209.0 675.5,227.0 626.0,227.0" fill="#56585b" />
<polygon points="626.0,227.0 705.0,227.0 705.0,262.5 626.0,262.5" fill="url(#gTube)" />
<polygon points="675.5,227.0 690.0,227.0 677.0,262.5 662.5,262.5" fill="#ffffff" opacity="0.10"/>
<polygon points="626.0,227.0 640.0,227.0 640.0,262.5 626.0,262.5" fill="#ffffff" opacity="0.08"/>
<g clip-path="url(#cUnder)"><polygon points="771,221 842,221 836.500,227 768,227" fill="#85807b" opacity="0.55" filter="url(#blur1)"/></g>
<polygon points="758.0,227.0 849.0,227.0 852.0,262.5 758.0,262.5" fill="#5e6062" />
<polygon points="758,227 836,227 806,252 790,258 758,258" fill="url(#gTubeL)"/>
<polygon points="758.0,262.5 852.0,262.5 849.0,267.0 758.0,267.0" fill="#6a6f73" />
<polygon points="805.0,262.5 852.0,262.5 849.0,267.0 805.0,267.0" fill="#4c4e50" />
<polygon points="758.0,267.0 790.5,267.0 773.0,282.5 758.0,282.5" fill="#a0a6aa" />
<polygon points="626.0,263.0 704.5,263.0 704.5,282.5 626.0,282.5" fill="url(#gUT)" />
<polygon points="700.0,263.0 758.5,263.0 758.5,282.5 700.0,282.5" fill="#424446" />
<polygon points="700.0,263.0 721.0,263.0 721.0,282.5 700.0,282.5" fill="#5a5c5e" />
<rect x="716" y="268.5" width="5" height="6.5" fill="#b0b2b4"/>
<polygon points="705.0,218.0 758.5,218.0 758.5,263.0 704.5,263.0" fill="#5f6163" />
<polygon points="705.0,218.0 758.5,218.0 758.5,232.0 704.5,232.0" fill="#4f5153" />
<rect x="713" y="237.3" width="16.5" height="16" fill="#cfd0d1"/><rect x="715" y="239.3" width="12.500" height="12" fill="#bdbebf"/>
<rect x="740" y="237.3" width="17" height="16" fill="#cfd0d1"/><path d="M752.5 240a7 7 0 0 0 0 11" stroke="#efefef" stroke-width="1.6" fill="none"/><path d="M747 240l-4 5.500l4 5.500" stroke="#b6b7b8" stroke-width="1" fill="none"/>
<g transform="translate(724.0 214.5) scale(0.95)" opacity="0.55">
<rect x="-5.5" y="-6.5" width="11" height="6" rx="1.5" fill="#808284"/>
<ellipse cx="0" cy="0" rx="8.5" ry="3.2" fill="#a3a5a7"/>
<rect x="-5.2" y="1" width="10.4" height="6" rx="1.5" fill="#96989a"/>
<ellipse cx="0" cy="7.6" rx="2.8" ry="2" fill="#b9bbbd"/>
</g>
<g transform="translate(751.6 214.5) scale(0.95)" opacity="0.55">
<rect x="-5.5" y="-6.5" width="11" height="6" rx="1.5" fill="#808284"/>
<ellipse cx="0" cy="0" rx="8.5" ry="3.2" fill="#a3a5a7"/>
<rect x="-5.2" y="1" width="10.4" height="6" rx="1.5" fill="#96989a"/>
<ellipse cx="0" cy="7.6" rx="2.8" ry="2" fill="#b9bbbd"/>
</g>
<g transform="translate(654.0 216.5) scale(1.00)" opacity="0.90">
<rect x="-5.5" y="-6.5" width="11" height="6" rx="1.5" fill="#808284"/>
<ellipse cx="0" cy="0" rx="8.5" ry="3.2" fill="#a3a5a7"/>
<rect x="-5.2" y="1" width="10.4" height="6" rx="1.5" fill="#96989a"/>
<ellipse cx="0" cy="7.6" rx="2.8" ry="2" fill="#b9bbbd"/>
</g>
<rect x="721" y="258.5" width="37.500" height="15" fill="#3a3c3e"/>
<path d="M722.3 273V259.7H757.2V273" fill="none" stroke="#cfd1d2" stroke-width="1.5"/>
<path d="M725.5 273V263H754V273" fill="none" stroke="#a9abad" stroke-width="1.1"/>
<rect x="728" y="264" width="24" height="8.500" fill="#262728"/>
<rect x="734.6" y="253" width="2.300" height="32" fill="#cfd0d1"/>
<rect x="732" y="256.5" width="7.500" height="3" fill="#cfd0d1"/>
<rect x="732.500" y="262" width="6.500" height="3" fill="#e8e8e8"/>
<polygon points="307.5,209.0 318.5,209.0 318.5,242.0 307.5,242.0" fill="#5e6062" />
<polygon points="318.5,209.0 350.0,209.0 350.0,242.0 318.5,242.0" fill="#4c4e50" />
<polygon points="297.4,219.0 307.5,219.0 307.5,242.0 297.4,242.0" fill="#3e4042" />
<polygon points="355.0,222.0 362.0,228.0 362.0,262.0 355.0,262.0" fill="#404244" />
<polygon points="350.0,219.0 355.2,219.0 355.2,278.0 350.0,278.0" fill="#6e7072" />
<polygon points="296.4,242.0 348.0,242.0 344.8,280.0 293.3,280.0" fill="#77797b" />
<polygon points="300.4,246 344.3,246 341.5,280 297.6,280" fill="url(#gKeelL)"/>
<rect x="313.2" y="248" width="2.8" height="32" fill="#292b2d"/>
<rect x="327.0" y="248" width="2.8" height="32" fill="#292b2d"/>
<rect x="301.6" y="252" width="1.6" height="28" fill="#8a8c8e"/>
<rect x="340.6" y="252" width="1.6" height="27" fill="#8a8c8e"/>
<rect x="304.5" y="264.6" width="36" height="5.6" rx="2" fill="#a7a9ab"/>
<rect x="313.2" y="264.6" width="2.8" height="5.6" fill="#6a6c6e"/>
<rect x="327.0" y="264.6" width="2.8" height="5.6" fill="#6a6c6e"/>
<rect x="287.3" y="262.6" width="6" height="9.2" rx="2.5" fill="#c0c2c4"/>
<rect x="353" y="261.6" width="8" height="12" rx="3" fill="#c8cacc"/><circle cx="357" cy="267.6" r="2" fill="#a2a4a6"/>
<polygon points="271.0,278.8 294.0,278.8 306.0,293.0 285.0,293.0" fill="#3a3c3e" />
<polygon points="271.0,278.8 294.0,278.8 295.0,280.2 272.3,280.2" fill="#5c5e60" />
<polygon points="344.8,277.8 367.0,277.8 385.0,293.0 338.0,293.0" fill="#4a4c4e" />
<polygon points="344.8,277.8 367.0,277.8 369.0,279.5 344.6,279.5" fill="#606264" />
<polygon points="297.0,280.0 342.0,280.0 340.0,293.0 303.0,293.0" fill="#2e3032" />
<circle cx="307.5" cy="287" r="2.4" fill="#b9bbbd"/>
<polygon points="313.5,279.8 320.6,279.8 320.6,295.0 313.5,295.0" fill="#a9b3b7" />
<polygon points="320.6,279.8 323.6,279.8 323.6,295.0 320.6,295.0" fill="#5a6468" />
<polygon points="323.6,281.8 327.0,281.8 335.0,293.0 323.6,293.0" fill="#8f999d" />
<polygon points="571.4,234.5 620.0,234.5 620.0,242.0 571.4,242.0" fill="#3c3e40" />
<polygon points="564.3,219.0 571.4,219.0 571.4,278.0 564.3,278.0" fill="#5e6062" />
<polygon points="570.2,219.0 571.4,219.0 571.4,278.0 570.2,278.0" fill="#7a7c7e" />
<polygon points="620.0,217.0 626.0,217.0 626.0,280.0 620.0,280.0" fill="#7d7f81" />
<polygon points="572.4,241.4 622.0,241.4 622.0,283.0 572.4,283.0" fill="#838587" />
<rect x="576" y="245" width="44" height="38" fill="url(#gKeelM)"/>
<rect x="576.2" y="251.5" width="1.8" height="31.5" fill="#8e9092"/>
<rect x="580.5" y="264.2" width="41.5" height="6.5" fill="#cfd1d3"/>
<rect x="560.3" y="262.6" width="7" height="9.2" rx="2.5" fill="#c5c7c9"/>
<rect x="627" y="262.6" width="6.2" height="11" rx="2.5" fill="#dadcde"/>
<polygon points="549.2,279.8 594.6,279.8 594.6,293.0 547.0,293.0" fill="#58595b" />
<polygon points="549.2,279.8 594.6,279.8 594.6,284.0 548.5,284.0" fill="#7c7e80" />
<rect x="580" y="284.500" width="12" height="8" fill="#3e4042"/><circle cx="584" cy="287.500" r="2.300" fill="#bdbfc1"/>
<polygon points="286.0,280.0 345.0,280.0 340.0,293.5 297.0,293.5" fill="#2e3032" />
<circle cx="307.5" cy="287" r="2.4" fill="#b9bbbd"/>
<polygon points="313.5,279.8 320.6,279.8 320.6,295.0 313.5,295.0" fill="#a9b3b7" />
<polygon points="320.6,279.8 323.6,279.8 323.6,295.0 320.6,295.0" fill="#5a6468" />
<polygon points="323.6,281.8 327.5,281.8 335.0,293.0 323.6,293.0" fill="#8f999d" />
<path d="M323,293 L594.5,293 L577.5,365.500 Q576,372.7 570,372.7 L402.5,372.7 Z" fill="url(#gSteel)"/>
<rect x="324" y="292.800" width="270" height="3.300" fill="url(#gHi)"/>
<polygon points="192.8,296.3 318.0,295.0 401.0,370.5 324.5,372.5" fill="url(#gSteel)" />
<polygon points="314.5,295.0 323.3,295.0 404.0,372.7 399.5,370.5" fill="#a3aeb4" />
<path d="M323.300,295L404,372.700" stroke="#58626a" stroke-width="1.600"/>
<rect x="199.500" y="293" width="115.500" height="3.300" fill="#f4f6f7"/>
<path d="M199.500,296.300V293.100H315" stroke="#8e9498" stroke-width="0.700" fill="none"/>
<polygon points="592.5,293.0 596.0,288.5 601.0,288.5 590.5,352.5 578.5,352.5" fill="#b5c3cb" />
<polygon points="596.0,282.0 858.0,282.0 858.0,289.0 596.0,289.0" fill="#f5f7f8" stroke="#b5bbbe" stroke-width="0.6"/>
<polygon points="600.0,289.0 858.0,289.0 761.5,352.5 589.5,352.5" fill="url(#gCer)" />
<rect x="589.3" y="353" width="2.200" height="5.500" fill="#4a4c4e"/>
<rect x="610" y="367.500" width="27" height="15.500" fill="#fafafa" stroke="#f0f0f0" stroke-width="0.600"/>
<path d="M194,65H376V221" fill="none" stroke="#2a2a2a" stroke-width="1.1"/>
<circle cx="376.5" cy="221.0" r="3.3" fill="#1a1a1a"/>
<path d="M194,97H295V232" fill="none" stroke="#2a2a2a" stroke-width="1.1"/>
<circle cx="295.0" cy="232.0" r="3.3" fill="#1a1a1a"/>
<path d="M712,65H568V254" fill="none" stroke="#2a2a2a" stroke-width="1.1"/>
<circle cx="568.0" cy="254.5" r="3.3" fill="#1a1a1a"/>
<path d="M712,97.3H590.5V194" fill="none" stroke="#2a2a2a" stroke-width="1.1"/>
<circle cx="590.5" cy="194.0" r="3.3" fill="#1a1a1a"/>
<path d="M822,64.8H722V245" fill="none" stroke="#2a2a2a" stroke-width="1.1"/>
<circle cx="722.0" cy="245.0" r="3.3" fill="#1a1a1a"/>
<path d="M822,97H746.5V228" fill="none" stroke="#2a2a2a" stroke-width="1.1"/>
<circle cx="746.5" cy="228.5" r="3.3" fill="#1a1a1a"/>
<path d="M18.2,369H284.5V287" fill="none" stroke="#2a2a2a" stroke-width="1.1"/>
<circle cx="284.5" cy="287.3" r="3.3" fill="#1a1a1a"/>
<path d="M18.2,407.4H299.5V313" fill="none" stroke="#2a2a2a" stroke-width="1.1"/>
<circle cx="299.5" cy="313.5" r="3.3" fill="#1a1a1a"/>
<path d="M537,408H335V282" fill="none" stroke="#2a2a2a" stroke-width="1.1"/>
<circle cx="335.0" cy="282.3" r="3.3" fill="#1a1a1a"/>
<path d="M537,446.6H314.3V276" fill="none" stroke="#2a2a2a" stroke-width="1.1"/>
<circle cx="314.3" cy="276.0" r="3.3" fill="#1a1a1a"/>
<path d="M747.5,446.7H581V268" fill="none" stroke="#2a2a2a" stroke-width="1.1"/>
<circle cx="581.0" cy="268.0" r="3.3" fill="#1a1a1a"/>
<path d="M1051,329.7H830V286" fill="none" stroke="#2a2a2a" stroke-width="1.1"/>
<circle cx="830.0" cy="286.0" r="3.3" fill="#1a1a1a"/>
<path d="M1051,369.2H749.5V268" fill="none" stroke="#2a2a2a" stroke-width="1.1"/>
<circle cx="749.5" cy="268.0" r="3.3" fill="#1a1a1a"/>
<path d="M1051,408H712.6V270" fill="none" stroke="#2a2a2a" stroke-width="1.1"/>
<circle cx="712.7" cy="270.5" r="3.3" fill="#1a1a1a"/>
<text class="lb" transform="translate(195.19 60.50) scale(0.8089 1)">金属膨胀螺栓</text>
<text class="lb" transform="translate(195.18 92.30) scale(0.8210 1)">连接件</text>
<text class="lb" transform="translate(566.19 60.50) scale(0.8090 1)">泡沫垫<tspan class="pp" dx="6.0" dy="-1.6">(</tspan><tspan dx="0.0" dy="1.6">调整用</tspan><tspan class="pp" dx="0.0" dy="-1.6">)</tspan></text>
<text class="lb" transform="translate(620.78 92.30) scale(0.8059 1)">防潮涂层</text>
<text class="lb" transform="translate(776.35 60.50) scale(0.7553 1)">螺钉</text>
<text class="lb" transform="translate(733.61 92.80) scale(0.7837 1)">镀锌角钢</text>
<text class="lb" transform="translate(20.70 365.00) scale(0.8043 1)">竖向铁龙骨<tspan class="pp" dx="6.0" dy="-1.6">(</tspan><tspan dx="0.0" dy="1.6">镀锌</tspan><tspan class="pp" dx="0.0" dy="-1.6">)</tspan></text>
<text class="lb" transform="translate(22.41 402.50) scale(0.7982 1)">搪瓷钢板</text>
<text class="lb" transform="translate(430.30 403.80) scale(0.7947 1)">不锈钢挂钩</text>
<text class="lb" transform="translate(316.60 442.00) scale(0.8149 1)"><tspan textLength="12.5" lengthAdjust="spacingAndGlyphs">U</tspan>型龙骨盖片<tspan class="pp" dx="6.0" dy="-1.6">(</tspan><tspan dx="0.0" dy="1.6">表面喷涂</tspan><tspan class="pp" dx="0.0" dy="-1.6">,</tspan></text>
<text class="lb" transform="translate(359.19 472.00) scale(0.8065 1)">颜色与搪瓷钢板同<tspan class="pp" dx="0.0" dy="-1.6">)</tspan></text>
<text class="lb" transform="translate(655.19 442.00) scale(0.7983 1)">镀锌螺栓</text>
<text class="lb" transform="translate(578.05 472.00) scale(0.8141 1)"><tspan class="pp" dx="6.0" dy="-1.6">(</tspan><tspan dx="0.0" dy="1.6">挂轴</tspan><tspan class="pp" dx="0.0" dy="-1.6">)</tspan><tspan class="pp" dx="12.0" dy="0.0">(</tspan><tspan dx="0.0" dy="1.6">外套胶圈</tspan><tspan class="pp" dx="0.0" dy="-1.6">)</tspan></text>
<text class="lb" transform="translate(985.13 325.10) scale(0.8030 1)">陶瓷板</text>
<text class="lb" transform="translate(985.00 364.70) scale(0.8058 1)">钩挂件</text>
<text class="lb" transform="translate(965.25 402.90) scale(0.8076 1)">微调螺丝</text>
<g filter="url(#wmsh)">
<g fill="#ffffff" stroke="#d4d4d4" stroke-width="0.6">
<path d="M849,428.5c-8.300,0-15,5.700-15,12.700c0,4,2.200,7.500,5.600,9.800l-1.900,5.800l6.300-3.500c1.600,0.400,3.300,0.600,5,0.600c8.300,0,15-5.700,15-12.700S857.300,428.500,849,428.500z"/>
<path d="M863.500,439.500c7,0,12.700,4.800,12.700,10.700c0,3.300-1.800,6.200-4.600,8.200l1.500,5l-5.300-3c-1.400,0.300-2.800,0.500-4.300,0.500c-7,0-12.700-4.800-12.700-10.700S856.500,439.500,863.500,439.500z"/>
</g>
<g fill="#ffffff" stroke="#cfcfcf" stroke-width="0.500"><circle cx="844" cy="437" r="1.600"/><circle cx="854.500" cy="437" r="1.600"/><circle cx="859.300" cy="446.500" r="1.300"/><circle cx="867.800" cy="446.500" r="1.300"/></g>
<text x="882.8" y="456.2" textLength="162.5" lengthAdjust="spacingAndGlyphs" class="wm">高祥生工作室</text>
</g>
</svg>
</body></html>
